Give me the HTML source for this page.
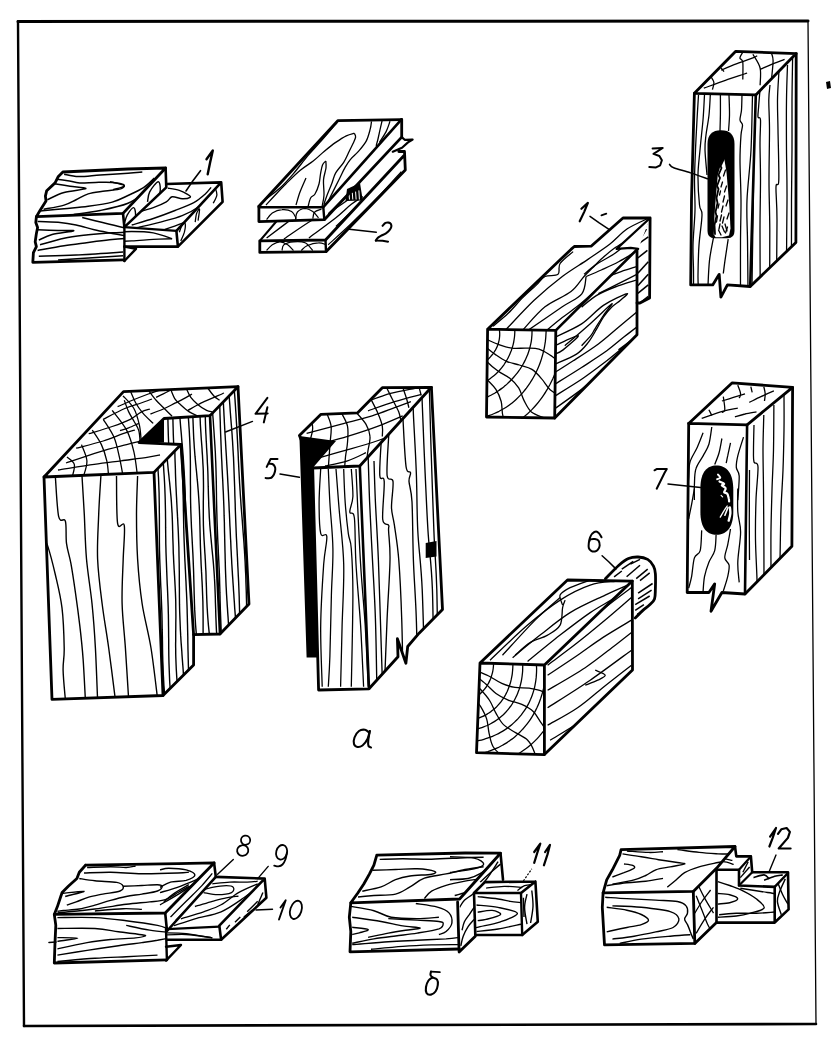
<!DOCTYPE html><html><head><meta charset="utf-8"><style>html,body{margin:0;padding:0;background:#fff;font-family:"Liberation Sans",sans-serif;}svg{display:block}</style></head><body><svg width="831" height="1043" viewBox="0 0 831 1043"><defs><clipPath id="c1"><polygon points="166.3,184 221.2,182.4 176.4,230.8 124.4,227.1"/></clipPath><clipPath id="c2"><polygon points="221.2,182.4 222.6,201.9 177.9,246.6 176.4,230.8"/></clipPath><clipPath id="c3"><polygon points="124.4,227.1 176.4,230.8 177.9,246.6 124.4,246.6"/></clipPath><clipPath id="c4"><polygon points="62.9,172 128,169 165.6,168 123,213.4 36.4,216.6 40,210.5 46,200.9 45.4,196.1 46.7,190.7 55.1,182.9 58.1,176.8"/></clipPath><clipPath id="c5"><polygon points="165.6,168 166.3,187.4 124.4,227.1 123,213.4"/></clipPath><clipPath id="c6"><polygon points="36.4,216.6 123,214.2 124.4,227.1 124.4,246.6 123,249 123,259.9 32.8,262.3 33.4,252.7 36.4,246.6 35.2,241.8 36.4,233.4 37.6,227.4 35.8,222.6"/></clipPath><clipPath id="c7"><polygon points="259.8,240.9 337,152 404.5,155 325.5,240"/></clipPath><clipPath id="c8"><polygon points="325.5,240 404.5,155 405.3,170 326,251.7"/></clipPath><clipPath id="c9"><polygon points="259.8,240.9 325.5,240 326,251.7 259.8,252.4"/></clipPath><clipPath id="c10"><polygon points="258.9,206.3 337.8,120.7 401.3,119.7 323.3,207.2"/></clipPath><clipPath id="c11"><polygon points="323.3,207.2 401.3,119.7 401.7,137.1 324.3,219.7"/></clipPath><clipPath id="c12"><polygon points="258.9,207.2 323.3,207.2 324.3,219.7 258.9,221.6"/></clipPath><clipPath id="c13"><polygon points="755.8,94.9 796.2,53.6 795.9,242.5 750.2,286.5"/></clipPath><clipPath id="c14"><polygon points="694.4,93.3 755.8,94.9 750.2,286.5 727.4,284.9 720.9,297.1 719.2,274.3 712.7,284.9 690.7,284.9 691.5,200"/></clipPath><clipPath id="c15"><polygon points="694.4,93.3 735.5,51.4 796.2,53.6 755.8,94.9"/></clipPath><clipPath id="c16"><polygon points="637,250 638.2,248.9 650.1,218 649.6,298 640,303 637,303"/></clipPath><clipPath id="c17"><polygon points="488.7,329.5 571,249.4 574.3,246.5 591.1,246.2 623,218 650.1,218 616.6,248.9 630.7,247.8 636,250.5 555.8,330.3"/></clipPath><clipPath id="c18"><polygon points="555.8,330.3 636,250.5 637,334.7 554.7,418"/></clipPath><clipPath id="c19"><polygon points="487.6,329.2 555.8,330.3 554.7,418 486.5,417"/></clipPath><clipPath id="c20"><polygon points="210,415.6 238,386.7 249,604 220,634"/></clipPath><clipPath id="c21"><polygon points="164,418.5 210,415.6 220,634 193.6,634.6 181,444.5 164,442.6"/></clipPath><clipPath id="c22"><polygon points="154,472.4 181,444.5 193.6,665 163,695.5"/></clipPath><clipPath id="c23"><polygon points="44,477 154,472.4 163,695.5 52,699.4"/></clipPath><clipPath id="c24"><polygon points="44,477 123.5,391.6 238,386.7 210,415.6 164,418.5 139,442.6 181,444.5 154,472.4"/></clipPath><clipPath id="c25"><polygon points="359.8,466 431.4,387.3 442.5,609.4 369,688.8"/></clipPath><clipPath id="c26"><polygon points="312.7,468 359.8,466 369,688.8 318.6,690"/></clipPath><clipPath id="c27"><polygon points="299.4,435.4 321,414.3 357.7,412.8 382.3,387.7 431.4,387.3 359.8,466 312.7,468"/></clipPath><clipPath id="c28"><polygon points="747.1,424.8 792.6,387.3 791.9,546.3 745,594"/></clipPath><clipPath id="c29"><polygon points="688.7,423.4 747.1,424.8 745,594 721.9,592.5 711,611.3 714.7,583.9 708.9,592.5 687.2,592.5 688,500"/></clipPath><clipPath id="c30"><polygon points="688.7,423.4 732,382.9 792.6,387.3 747.1,424.8"/></clipPath><clipPath id="c31"><polygon points="605.4,578.7 618.9,565.2 628.5,558.5 638.1,557 647.7,559.4 653.5,566.2 655.4,573.9 655.4,588.3 654.5,598.9 649.7,604.7 642.9,610.4 635.2,618.1 632.3,620 632.3,581.1"/></clipPath><clipPath id="c32"><polygon points="545,663.8 631.2,581.2 632.5,670 545,753.8"/></clipPath><clipPath id="c33"><polygon points="480,662.5 567.5,580 631.2,581.2 545,663.8"/></clipPath><clipPath id="c34"><polygon points="480,663 544.4,665 544.4,754.6 476.5,752.6"/></clipPath><clipPath id="c35"><polygon points="215.8,876.9 264.7,878.6 219.3,925.7 167,929.2"/></clipPath><clipPath id="c36"><polygon points="264.7,878.6 266.4,897.8 221.1,939.7 219.3,925.7"/></clipPath><clipPath id="c37"><polygon points="167,929.2 219.3,926.6 221.1,939.7 167,939.7"/></clipPath><clipPath id="c38"><polygon points="85.5,865.2 178,863.6 214.1,862.9 165.2,913 54.3,914.4 57.4,906.6 60.5,897.2 62.1,892.5 68.3,886.3 76.9,878.5 79.3,872.2"/></clipPath><clipPath id="c39"><polygon points="214.1,862.9 215.8,876.9 167,931 165.2,913"/></clipPath><clipPath id="c40"><polygon points="54.3,914.4 165.2,913 167,929.2 167,945 166.9,959.8 54.3,963 55,942.6 55.8,925.4"/></clipPath><clipPath id="c41"><polygon points="474,893 521,893 522.2,935 475.3,935"/></clipPath><clipPath id="c42"><polygon points="484.9,882.1 535.4,881.5 521,893 474,893"/></clipPath><clipPath id="c43"><polygon points="521,893 535.4,881.5 537.8,921.8 522.2,935"/></clipPath><clipPath id="c44"><polygon points="459.6,899 500.5,853.2 503,879.7 484.9,882.1 474,893 475.3,936.3 459.6,952"/></clipPath><clipPath id="c45"><polygon points="376.8,855.1 465,853 500.5,853.2 459.6,899 350.8,902.8 358,892.7 363.8,884 369.5,873.9 373.9,865.2"/></clipPath><clipPath id="c46"><polygon points="350.8,902.8 457.6,902 459.1,949 350,951.9 350.8,931.6 349.3,917.2"/></clipPath><clipPath id="c47"><polygon points="716.5,869.7 739,869.7 739,885.5 774.7,886.9 774.7,922.6 716.5,922.6"/></clipPath><clipPath id="c48"><polygon points="716.5,869.7 735,846.5 736.3,856.4 750.9,856.4 739,869.7"/></clipPath><clipPath id="c49"><polygon points="739,885.5 752.2,872.3 788,872.3 774.7,886.9"/></clipPath><clipPath id="c50"><polygon points="774.7,886.9 788,872.3 788.6,909.4 774.7,922.6"/></clipPath><clipPath id="c51"><polygon points="739,869.7 750.9,856.4 752.2,872.3 739,885.5"/></clipPath><clipPath id="c52"><polygon points="693.3,891.4 716.5,868.3 716.5,922.6 694.8,943.4"/></clipPath><clipPath id="c53"><polygon points="621.1,849.6 735,846.5 716.5,868.3 693.3,891.4 603.1,892.9 606.7,879.9 612.4,869.8 619.7,855.3"/></clipPath><clipPath id="c54"><polygon points="603.1,892.9 693.3,891.4 694.8,943.4 604.5,944.9 602.3,907.3"/></clipPath></defs><rect width="831" height="1043" fill="#fff"/><path d="M18,21.5 L808,21" fill="none" stroke="#000" stroke-width="3" stroke-linejoin="round" stroke-linecap="round"/><path d="M18,21.5 L24,1026" fill="none" stroke="#000" stroke-width="2.4" stroke-linejoin="round" stroke-linecap="round"/><path d="M808,21 L816,1024" fill="none" stroke="#000" stroke-width="1.3" stroke-linejoin="round" stroke-linecap="round"/><path d="M24,1026 L816,1024" fill="none" stroke="#000" stroke-width="2.6" stroke-linejoin="round" stroke-linecap="round"/><path d="M826,82 L830,81 L831,88 L827,89Z" fill="#000"/><polygon points="166.3,184 221.2,182.4 176.4,230.8 124.4,227.1" fill="#fff"/><g clip-path="url(#c1)" fill="none" stroke="#000" stroke-width="1.4"><path d="M167.8,188.2 C169.7,188.5 175.9,189.2 179.3,190.3 C182.7,191.4 186.2,193.5 188,194.7 C189.8,195.8 191.1,196.6 190.1,197.3 C189.2,197.9 185.2,198.8 182.2,198.7 C179.2,198.6 174.7,196.3 172.1,196.8 C169.4,197.4 169.4,200.1 166.3,201.9 C163.2,203.7 157.9,206 153.3,207.7 C148.7,209.3 141.3,211.3 138.9,212"/><path d="M131.7,225 C135.3,223.9 146.1,220.9 153.3,218.5 C160.5,216.1 168.2,213.2 175,210.5 C181.7,207.9 188.7,205.4 193.8,202.6 C198.8,199.8 202.4,196.5 205.3,193.9 C208.2,191.4 210.1,188.5 211.1,187.4"/><path d="M136,227.9 C140.1,226.9 152.8,224.1 160.5,222.1 C168.2,220 175.7,218.2 182.2,215.6 C188.7,212.9 194.7,209.7 199.5,206.2 C204.3,202.7 209.2,196.6 211.1,194.7"/><path d="M164.9,229.3 C168.2,228.1 179.3,224.7 185.1,222.1 C190.9,219.4 195.2,217 199.5,213.4 C203.9,209.8 208.2,204 211.1,200.4 C214,196.8 215.9,193.2 216.9,191.8"/></g><polygon points="221.2,182.4 222.6,201.9 177.9,246.6 176.4,230.8" fill="#fff"/><g clip-path="url(#c2)" fill="none" stroke="#000" stroke-width="1.3"><path d="M179.3,232.2 C179.8,231 181.2,226.4 182.2,225 C183.2,223.5 184.7,222.3 185.1,223.5 C185.5,224.7 185.1,229.3 184.4,232.2 C183.6,235.1 181.4,239.4 180.8,240.9"/><path d="M195.2,222.1 C195.4,220.6 195.9,215.6 196.6,213.4 C197.4,211.3 199.3,207.9 199.5,209.1 C199.8,210.3 198.3,218.7 198.1,220.6"/><path d="M211.1,188.9 C211.6,188.4 213,185 214,186 C214.9,187 217,191.8 216.9,194.7 C216.7,197.5 213.9,201.9 213.2,203.3"/></g><polygon points="124.4,227.1 176.4,230.8 177.9,246.6 124.4,246.6" fill="#fff"/><g clip-path="url(#c3)" fill="none" stroke="#000" stroke-width="1.4"><path d="M110,232.9 C113.6,232.7 124.4,231.5 131.7,231.5 C138.9,231.5 146.6,231.7 153.3,232.9 C160.1,234.1 169,237.7 172.1,238.7"/><path d="M110,241.6 C113.6,241.5 124.4,241.2 131.7,240.9 C138.9,240.5 146.6,239.8 153.3,239.4 C160.1,239.1 169,238.8 172.1,238.7"/></g><polygon points="62.9,172 128,169 165.6,168 123,213.4 36.4,216.6 40,210.5 46,200.9 45.4,196.1 46.7,190.7 55.1,182.9 58.1,176.8" fill="#fff"/><g clip-path="url(#c4)" fill="none" stroke="#000" stroke-width="1.5"><path d="M64.1,174.2 C66.5,174.6 72.5,176.5 78.5,176.6 C84.6,176.7 92,175.6 100.2,175 C108.4,174.5 121,173.7 128,173.2 C135,172.7 139.9,172.2 142.3,172"/><path d="M56.9,179.3 C58.7,179.5 63.9,180.1 67.7,180.7 C71.5,181.3 75.1,182.6 79.7,182.9 C84.4,183.1 90,182.5 95.4,182.4 C100.8,182.3 107.5,182 112.2,182.4 C116.9,182.8 122.3,183.6 123.7,184.7 C125.1,185.8 123.8,187.8 120.7,188.9 C117.6,189.9 110.4,190.2 105,191 C99.6,191.9 93,192.5 88.2,193.9 C83.4,195.4 80.1,197.8 76.1,199.7 C72.1,201.6 69.5,203.5 64.1,205.1 C58.7,206.7 47.1,208.6 43.6,209.3"/><path d="M54.5,183.8 C57.1,184.2 64.9,185.4 70.1,186.2 C75.3,187 86.8,187.6 85.8,188.6 C84.8,189.7 70.5,190.6 64.1,192.5 C57.7,194.3 50.1,198.5 47.3,199.7"/><path d="M40,211.1 C44,210.7 56.1,209.5 64.1,208.7 C72.1,207.9 80.1,207.4 88.2,206.3 C96.2,205.2 105.6,203.9 112.2,202.1 C118.9,200.3 122.8,197.9 128,195.5 C133.2,193.1 139.1,190.6 143.5,187.7 C147.9,184.8 152.5,179.7 154.4,178.1"/><path d="M73.7,214.4 C78.1,213.8 91.2,212.4 100.2,210.5 C109.2,208.7 120.4,206.5 128,203.3 C135.6,200.1 141.3,194.5 145.9,191.3 C150.5,188.1 154,185.3 155.6,184.1"/><path d="M110,181.7 C112.4,182.3 124,184.4 124.4,185.7 C124.9,187 114.8,189 112.9,189.6"/></g><polygon points="165.6,168 166.3,187.4 124.4,227.1 123,213.4" fill="#fff"/><g clip-path="url(#c5)" fill="none" stroke="#000" stroke-width="1.4"><path d="M124.4,223.5 C124.9,222.1 125.8,217.5 127.3,214.9 C128.9,212.2 132.5,207.2 133.8,207.7 C135.2,208.1 136.1,214.9 135.3,217.8 C134.4,220.6 129.9,223.8 128.8,225"/><path d="M147.5,201.9 C147.9,200.2 147.9,195.1 149.7,191.8 C151.5,188.4 156.7,181.4 158.4,181.7 C160.1,181.9 160.9,189.8 159.8,193.2 C158.7,196.6 153.2,200.4 151.9,201.9"/></g><polygon points="36.4,216.6 123,214.2 124.4,227.1 124.4,246.6 123,249 123,259.9 32.8,262.3 33.4,252.7 36.4,246.6 35.2,241.8 36.4,233.4 37.6,227.4 35.8,222.6" fill="#fff"/><g clip-path="url(#c6)" fill="none" stroke="#000" stroke-width="1.5"><path d="M37.6,221.4 C41,221.5 51.7,221.7 58.1,222.3 C64.5,222.9 70.1,223.7 76.1,225 C82.2,226.2 88.2,228.4 94.2,229.8 C100.2,231.2 106.6,232.3 112.2,233.4 C117.9,234.5 125.4,235.9 128,236.4"/><path d="M37.6,229.8 C41,229.9 52.1,230.2 58.1,230.4 C64.1,230.6 74.7,230.1 73.7,230.8 C72.7,231.5 57.9,233.1 52.1,234.6 C46.3,236.2 41,239.1 38.8,240"/><path d="M82.2,217.5 C85.6,218.4 95.8,220.9 102.6,222.6 C109.4,224.2 117.5,226.4 123.1,227.4 C128.7,228.4 134.1,228.4 136.3,228.6"/><path d="M40,244.8 C44,243.7 56.1,239.9 64.1,238.2 C72.1,236.6 80.1,235.8 88.2,234.8 C96.2,233.9 105.6,233.2 112.2,232.8 C118.9,232.4 122,232.5 128,232.2 C134,231.9 144.9,231.2 148.3,231"/><path d="M37.6,250.5 C42,249.7 55.7,247 64.1,245.7 C72.5,244.3 80.1,243.5 88.2,242.4 C96.2,241.4 105.6,240.1 112.2,239.4 C118.9,238.7 125.4,238.4 128,238.2"/><path d="M38.8,256.3 C45,256.1 62.1,255.8 76.1,255.1 C90.2,254.4 115.2,252.6 123.1,252.1"/><path d="M58.1,260.1 C65.1,259.6 89.4,258 100.2,257.2 C111,256.5 119.3,255.9 123.1,255.7"/></g><path d="M62.9,172 L128,169 L165.6,168 L123,213.4 L36.4,216.6 L40,210.5 L46,200.9 L45.4,196.1 L46.7,190.7 L55.1,182.9 L58.1,176.8 L62.9,172" fill="none" stroke="#000" stroke-width="2.8" stroke-linejoin="round" stroke-linecap="round"/><path d="M36.4,216.6 L35.8,222.6 L37.6,227.4 L36.4,233.4 L35.2,241.8 L36.4,246.6 L33.4,252.7 L32.8,262.3 L123,259.9" fill="none" stroke="#000" stroke-width="2.8" stroke-linejoin="round" stroke-linecap="round"/><path d="M123,213.4 L124.4,227.1 L166.3,187.4 L165.6,168" fill="none" stroke="#000" stroke-width="2.6" stroke-linejoin="round" stroke-linecap="round"/><path d="M166.3,184 L221.2,182.4 L222.6,201.9 L177.9,246.6 L176.4,230.8 L221.2,182.4" fill="none" stroke="#000" stroke-width="2.6" stroke-linejoin="round" stroke-linecap="round"/><path d="M124.4,227.1 L176.4,230.8" fill="none" stroke="#000" stroke-width="2.2" stroke-linejoin="round" stroke-linecap="round"/><path d="M124.4,246.6 L177.9,246.6" fill="none" stroke="#000" stroke-width="2.6" stroke-linejoin="round" stroke-linecap="round"/><path d="M124.4,246.6 L136,248.8 L124.4,261" fill="none" stroke="#000" stroke-width="2.4" stroke-linejoin="round" stroke-linecap="round"/><path d="M124.4,227.1 L124.4,261" fill="none" stroke="#000" stroke-width="2.4" stroke-linejoin="round" stroke-linecap="round"/><path d="M186,191 L192,182.1 L200.5,170.7" fill="none" stroke="#000" stroke-width="1.6" stroke-linejoin="round" stroke-linecap="round"/><path d="M206.5,159.3 L212.8,150.5 L210,163 L207.7,174.3" fill="none" stroke="#000" stroke-width="2.4" stroke-linejoin="round" stroke-linecap="round"/><polygon points="259.8,240.9 337,152 404.5,155 325.5,240" fill="#fff"/><g clip-path="url(#c7)" fill="none" stroke="#000" stroke-width="1.3"><path d="M266.6,238 C271,234.6 284.8,224.3 293.5,217.8 C302.2,211.2 311.5,204 318.5,198.5 C325.6,193.1 333,187.3 335.9,185"/><path d="M283.9,238.9 C288.7,235.7 304.1,224.8 312.8,219.7 C321.4,214.6 328.8,212.3 335.9,208.1 C342.9,204 351.9,196.9 355.1,194.7"/><path d="M308.9,238 C313.4,234.6 328.8,223.4 335.9,217.8 C342.9,212.1 346.8,207.8 351.3,204.3 C355.8,200.8 360.9,197.9 362.8,196.6"/><path d="M335.9,226.4 C339.1,223.4 349.3,213.7 355.1,208.1 C360.9,202.5 368,195.3 370.5,192.7"/></g><polygon points="325.5,240 404.5,155 405.3,170 326,251.7" fill="#fff"/><g clip-path="url(#c8)" fill="none" stroke="#000" stroke-width="1.2"><path d="M328.2,244.7 C332,241.2 342.6,231.9 351.3,223.5 C359.9,215.2 371.8,203.3 380.1,194.7 C388.5,186 397.8,175.4 401.3,171.6"/></g><polygon points="259.8,240.9 325.5,240 326,251.7 259.8,252.4" fill="#fff"/><g clip-path="url(#c9)" fill="none" stroke="#000" stroke-width="1.2"><path d="M266.6,250.5 C267.5,249.5 270.1,246.2 272.3,244.7 C274.6,243.3 277.5,241.8 280,241.8 C282.6,241.8 285.5,243.3 287.7,244.7 C290,246.2 292.5,249.5 293.5,250.5"/><path d="M282,250.5 C282.3,249.5 282,246.2 283.9,244.7 C285.8,243.3 290,242.1 293.5,241.8 C297,241.5 301.8,241.3 305.1,242.8 C308.3,244.2 311.5,249.2 312.8,250.5"/><path d="M301.2,250.5 C302.2,249.7 304.1,247 307,245.7 C309.9,244.4 315.3,242.9 318.5,242.8 C321.7,242.6 325,244.4 326.2,244.7"/></g><polygon points="258.9,206.3 337.8,120.7 401.3,119.7 323.3,207.2" fill="#fff"/><g clip-path="url(#c10)" fill="none" stroke="#000" stroke-width="1.3"><path d="M337,122.6 C334.1,125.9 324.8,136.9 319.9,142.4 C315,147.9 312.3,150.5 307.9,155.7 C303.5,160.9 298.1,168.2 293.5,173.6 C288.9,179 284.5,183.8 280,188 C275.5,192.2 268.8,196.8 266.6,198.6"/><path d="M354.3,133.2 C353,133.6 349.4,134.3 346.3,135.8 C343.2,137.3 339.4,139.8 335.7,142.4 C331.9,145.1 327.6,148.6 323.8,151.7 C320.1,154.8 317.2,157.9 313.2,161 C309.2,164.1 304.6,166.7 300,170.5 C295.4,174.3 290.1,179.8 285.8,184 C281.5,188.2 277.6,192.5 274.3,196 C271,199.5 267.4,203.5 266,205"/><path d="M354.3,133.2 C354.5,133.8 355.8,135.3 355.6,137.1 C355.4,138.9 354,141.4 352.9,143.8 C351.8,146.2 350.5,148.6 349,151.7 C347.5,154.8 345.9,158.8 343.7,162.3 C341.5,165.8 337.7,169.4 335.7,172.9 C333.7,176.4 333.3,179.5 331.8,183.5 C330.3,187.5 327.8,193.2 326.5,196.7 C325.2,200.2 324.2,203.4 323.8,204.7"/><path d="M325.8,161 C325.2,161.7 323.4,162.8 322.5,165 C321.6,167.2 321.1,170.8 320.5,174 C319.9,177.2 319.9,180.7 319,184 C318.1,187.3 316.4,191.7 315,194 C313.6,196.3 311.8,195.8 310.6,198 C309.4,200.2 308.4,205.5 308,207"/><path d="M325.8,161 C325.8,162.2 326.4,164.8 326,168 C325.6,171.2 323.8,175.5 323.5,180 C323.2,184.5 324.2,190.5 324,195 C323.8,199.5 322.3,205 322,207"/><path d="M371.5,121.3 C371.3,122.6 371.1,125.9 370.2,129.2 C369.3,132.5 368.2,137.3 366.2,141.1 C364.2,144.8 360.8,148.6 358.2,151.7 C355.6,154.8 352.5,156.9 350.3,159.6 C348.1,162.2 346.8,164.5 345,167.6 C343.2,170.7 341.7,174.2 339.7,178.2 C337.7,182.2 335.3,187 333.1,191.4 C330.9,195.8 327.6,202.5 326.5,204.7"/><path d="M382.1,120.6 C381.4,123.6 379,134.2 378.1,138.5 C377.2,142.8 375.5,146.4 376.8,146.4 C378.1,146.4 382.7,142 386,138.5 C389.3,135 394.2,128.1 396.6,125.2 C399,122.3 399.9,122 400.6,121.3"/><path d="M390,121.3 C389.3,123.1 387.8,128.4 386,131.9 C384.2,135.4 380.5,140.7 379.4,142.4"/><path d="M296,205 C296.7,202.8 298.3,196.5 300,192 C301.7,187.5 305,180.3 306,178"/></g><polygon points="323.3,207.2 401.3,119.7 401.7,137.1 324.3,219.7" fill="#fff"/><g clip-path="url(#c11)" fill="none" stroke="#000" stroke-width="1.2"><path d="M328.2,213.9 C330.1,212 335.2,206.8 339.7,202.4 C344.2,197.9 352.5,189.5 355.1,187"/></g><polygon points="258.9,207.2 323.3,207.2 324.3,219.7 258.9,221.6" fill="#fff"/><g clip-path="url(#c12)" fill="none" stroke="#000" stroke-width="1.2"><path d="M266.6,219.7 C267.5,218.6 269.8,214.6 272.3,212.9 C274.9,211.3 278.7,209.9 282,209.7 C285.2,209.4 289.2,210.1 291.6,211.6 C294,213.1 295.6,217.5 296.4,218.7"/><path d="M295.4,219.7 C295.8,218.4 295.8,213.8 297.4,212 C299,210.1 302.5,208.6 305.1,208.5 C307.6,208.5 310.5,210.1 312.8,211.6 C315,213.1 317.6,216.7 318.5,217.8"/><path d="M312.8,218.7 C313.1,217.6 313.2,213.6 314.7,212 C316.1,210.4 320.3,209.6 321.4,209.1"/></g><path d="M347,189 L360,183 L362.8,200.6 L345.5,201Z" fill="#000"/><path d="M349,193 L349.5,199" fill="none" stroke="#000" stroke-width="0.9" stroke-linejoin="round" stroke-linecap="round"/><path d="M352.2,191.8 L352.7,199" fill="none" stroke="#000" stroke-width="0.9" stroke-linejoin="round" stroke-linecap="round"/><path d="M355.4,190.6 L355.9,199" fill="none" stroke="#000" stroke-width="0.9" stroke-linejoin="round" stroke-linecap="round"/><path d="M358.6,189.4 L359.1,199" fill="none" stroke="#000" stroke-width="0.9" stroke-linejoin="round" stroke-linecap="round"/><g stroke="#fff" stroke-width="1"><path d="M349.0,194.0 L349.5,199.5"/><path d="M352.3,192.8 L352.8,199.5"/><path d="M355.6,191.6 L356.1,199.5"/><path d="M358.9,190.4 L359.4,199.5"/></g><path d="M258.9,206.3 L337.8,120.7 L401.3,119.7" fill="none" stroke="#000" stroke-width="2.8" stroke-linejoin="round" stroke-linecap="round"/><path d="M258.9,206.3 L258.9,221.6 L324.3,219.7 L401.7,137.1 L401.7,119.3" fill="none" stroke="#000" stroke-width="2.8" stroke-linejoin="round" stroke-linecap="round"/><path d="M258.9,207.2 L323.3,207.2 L401.3,119.7" fill="none" stroke="#000" stroke-width="2.6" stroke-linejoin="round" stroke-linecap="round"/><path d="M323.3,207.2 L324.3,219.7" fill="none" stroke="#000" stroke-width="2.4" stroke-linejoin="round" stroke-linecap="round"/><path d="M401.7,137.1 L404.7,139.8 L412.6,139.5 L408,142.4 L402,147.7 L392.8,151.7" fill="none" stroke="#000" stroke-width="2.2" stroke-linejoin="round" stroke-linecap="round"/><path d="M398.8,151.5 L404.5,151.5 L405.3,170 L326,251.7 L259.8,252.4 L259.8,240.9 L325.5,240 L404.5,155" fill="none" stroke="#000" stroke-width="2.8" stroke-linejoin="round" stroke-linecap="round"/><path d="M325.5,240 L326,251.7" fill="none" stroke="#000" stroke-width="2.4" stroke-linejoin="round" stroke-linecap="round"/><path d="M259.8,240.9 L276.2,221.6" fill="none" stroke="#000" stroke-width="2.2" stroke-linejoin="round" stroke-linecap="round"/><path d="M349.3,229.3 L376.3,232.2" fill="none" stroke="#000" stroke-width="1.5" stroke-linejoin="round" stroke-linecap="round"/><polygon points="755.8,94.9 796.2,53.6 795.9,242.5 750.2,286.5" fill="#fff"/><g clip-path="url(#c13)" fill="none" stroke="#000" stroke-width="1.3"><path d="M753.5,100 C753.5,113.3 753.6,156.7 753.5,180 C753.4,203.3 753,220 752.7,240 C752.4,260 751.9,290 751.8,300"/><path d="M760,90 C759.8,92.8 758.9,102.5 758.6,107 C758.3,111.5 757.7,114.8 758,117 C758.3,119.2 760.2,115.7 760.5,120 C760.8,124.3 760,133 760,143 C760,153 760.5,165.5 760.5,180 C760.5,194.5 760,210 760,230 C760,250 760.2,288.3 760.3,300"/><path d="M770,85 C769.8,87.5 768.9,92.5 768.8,100 C768.7,107.5 769.5,116.7 769.5,130 C769.5,143.3 769,163.3 769,180 C769,196.7 769.7,210 769.8,230 C769.9,250 769.5,288.3 769.5,300"/><path d="M778.9,72 C778.7,76.7 777.6,90.3 777.5,100 C777.4,109.7 777.8,116.7 778,130 C778.2,143.3 779.1,170.5 778.8,180 C778.5,189.5 776.3,180.3 776,187 C775.7,193.7 777,201.2 777,220 C777,238.8 776.4,286.7 776.3,300"/><path d="M787.5,65 C787.3,70.8 786.7,85.8 786.5,100 C786.3,114.2 786.4,133.3 786.5,150 C786.6,166.7 787.1,175 787,200 C786.9,225 786.2,283.3 786,300"/><path d="M792.6,58 C792.5,65 792.1,84.7 792,100 C791.9,115.3 792.1,133.3 792,150 C791.9,166.7 791.6,175 791.5,200 C791.4,225 791.5,283.3 791.5,300"/></g><polygon points="694.4,93.3 755.8,94.9 750.2,286.5 727.4,284.9 720.9,297.1 719.2,274.3 712.7,284.9 690.7,284.9 691.5,200" fill="#fff"/><g clip-path="url(#c14)" fill="none" stroke="#000" stroke-width="1.3"><path d="M698.5,95 C698.2,99.2 697.5,110.8 697,120 C696.5,129.2 695.9,140 695.5,150 C695.1,160 694.6,170 694.5,180 C694.4,190 695.2,199.2 695,210 C694.8,220.8 693.2,235 693,245 C692.8,255 693.4,262.5 693.5,270 C693.6,277.5 693.5,286.7 693.5,290"/><path d="M704.5,95 C704.2,99.2 703.8,110.8 703,120 C702.2,129.2 700.8,140.8 700,150 C699.2,159.2 698.1,165.8 698,175 C697.9,184.2 698.8,198.3 699.5,205 C700.2,211.7 702.1,208.3 702,215 C701.9,221.7 699.7,235 699,245 C698.3,255 698.1,267.5 698,275 C697.9,282.5 698.4,287.5 698.5,290"/><path d="M710.3,95 C710.1,98.3 709.7,108.3 709,115 C708.3,121.7 706.7,129.2 706,135 C705.3,140.8 704.8,143.3 705,150 C705.2,156.7 706.7,170.8 707,175"/><path d="M720.4,95 C720.4,98.3 720.5,109 720.4,115 C720.3,121 720.1,128.3 720,131"/><path d="M729,95 C729.1,98.3 729.6,109 729.5,115 C729.4,121 728.7,128.3 728.5,131"/><path d="M742,95 C741.9,97.5 741.8,105.8 741.5,110 C741.2,114.2 739.8,117.5 740,120 C740.2,122.5 742.3,122.5 742.5,125 C742.7,127.5 741.4,129.2 741,135 C740.6,140.8 740,149.2 740,160 C740,170.8 740.9,186.7 741,200 C741.1,213.3 740.6,225 740.5,240 C740.4,255 740.5,281.7 740.5,290"/><path d="M752.5,95 C752.2,104.2 751.9,132.5 751,150 C750.1,167.5 747.6,185 747,200 C746.4,215 747.3,225 747.5,240 C747.7,255 747.9,281.7 748,290"/><path d="M713.5,237.6 C712.8,241.4 710.5,251.7 709.5,260.4 C708.5,269.1 708.1,285.1 707.8,290"/><path d="M728.2,239.2 C727.7,242.7 725.8,254.7 725,260.4 C724.2,266.1 723.6,271.3 723.3,273.5"/></g><polygon points="694.4,93.3 735.5,51.4 796.2,53.6 755.8,94.9" fill="#fff"/><g clip-path="url(#c15)" fill="none" stroke="#000" stroke-width="1.3"><path d="M703.8,88.2 C707.4,86.9 718.2,82.8 725.4,80.3 C732.7,77.7 743.5,74.3 747.1,73"/><path d="M721.1,70.2 C723.7,69.1 731.7,65.7 737,63.7 C742.3,61.6 749.5,59.2 752.9,57.9 C756.2,56.6 756.5,56.1 757.2,55.7"/><path d="M760.1,69.4 C762,68.6 767.6,66.1 771.6,64.4 C775.7,62.7 782.5,60.2 784.6,59.3"/><path d="M742.8,52.1 C742.3,53.1 739.9,56.2 739.9,57.9 C739.9,59.6 742.3,58.6 742.8,62.2 C743.2,65.8 742.8,76.7 742.8,79.5"/><path d="M752.9,54.3 C754.1,56.6 758.9,62.8 760.1,68 C761.3,73.2 760.1,82.4 760.1,85.3"/><path d="M771.6,53.6 C771.9,54.8 773.1,56.7 773.1,60.8 C773.1,64.9 771.9,75.2 771.6,78.1"/><path d="M711,76.7 C711.5,77.6 713.6,80.3 713.9,82.4 C714.1,84.6 712.7,88.5 712.4,89.7"/><path d="M721.1,68 L724,71.6"/></g><path d="M694.4,93.3 L735.5,51.4 L796.2,53.6 L755.8,94.9 L694.4,93.3" fill="none" stroke="#000" stroke-width="2.8" stroke-linejoin="round" stroke-linecap="round"/><path d="M796.2,53.6 L795.9,242.5 L750.2,286.5 L727.4,284.9 L720.9,297.1 L719.2,274.3 L712.7,284.9 L690.7,284.9 L691.5,200 L694.4,93.3" fill="none" stroke="#000" stroke-width="2.8" stroke-linejoin="round" stroke-linecap="round"/><path d="M755.8,94.9 L750.2,286.5" fill="none" stroke="#000" stroke-width="2.6" stroke-linejoin="round" stroke-linecap="round"/><path d="M707.5,144 Q707.5,130.2 721,130.2 Q734.5,130.2 734.5,144 L734.5,231 Q734.5,238.3 727.5,238.3 L714.5,238.3 Q707.5,238.3 707.5,231 Z" fill="#000"/><path d="M724.2,158.4 L726.5,172 L727.6,185 L729.3,205.6 L730.5,228.6 L729,235.5 L722,237.2 L715.5,237.2 L713.8,234.3 L714.5,215 L716,195 L717.8,175 L721,164 Z" fill="#fff"/><path d="M724.2,158.4 L720.5,166 L721.5,168 L718.5,175 L720,178 L717,186 L718.5,189 L716.5,198 L717.5,203 L715.5,212 L716.5,216 L714.5,225 L715,234" fill="none" stroke="#000" stroke-width="1.8" stroke-linejoin="round" stroke-linecap="round"/><path d="M726.5,186 L724.5,192" fill="none" stroke="#000" stroke-width="1.3" stroke-linejoin="round" stroke-linecap="round"/><path d="M724.5,196 L723,202" fill="none" stroke="#000" stroke-width="1.3" stroke-linejoin="round" stroke-linecap="round"/><path d="M723,206 L721.5,212" fill="none" stroke="#000" stroke-width="1.3" stroke-linejoin="round" stroke-linecap="round"/><path d="M721.5,215 L720,221" fill="none" stroke="#000" stroke-width="1.3" stroke-linejoin="round" stroke-linecap="round"/><path d="M720,224 L719,229" fill="none" stroke="#000" stroke-width="1.3" stroke-linejoin="round" stroke-linecap="round"/><path d="M722,226 L724.5,232" fill="none" stroke="#000" stroke-width="1.3" stroke-linejoin="round" stroke-linecap="round"/><path d="M725,224 L727,231" fill="none" stroke="#000" stroke-width="1.3" stroke-linejoin="round" stroke-linecap="round"/><path d="M718.5,230 L721,235" fill="none" stroke="#000" stroke-width="1.3" stroke-linejoin="round" stroke-linecap="round"/><path d="M727.5,227 L725.5,233" fill="none" stroke="#000" stroke-width="1.3" stroke-linejoin="round" stroke-linecap="round"/><path d="M720.5,191 L719.5,195" fill="none" stroke="#000" stroke-width="1.3" stroke-linejoin="round" stroke-linecap="round"/><path d="M719,204 L718,208" fill="none" stroke="#000" stroke-width="1.3" stroke-linejoin="round" stroke-linecap="round"/><path d="M725.5,170 L723.5,176" fill="none" stroke="#000" stroke-width="1.3" stroke-linejoin="round" stroke-linecap="round"/><path d="M728,200 L726,206" fill="none" stroke="#000" stroke-width="1.3" stroke-linejoin="round" stroke-linecap="round"/><path d="M729,213 L727,219" fill="none" stroke="#000" stroke-width="1.3" stroke-linejoin="round" stroke-linecap="round"/><path d="M722.5,182 L721,187" fill="none" stroke="#000" stroke-width="1.3" stroke-linejoin="round" stroke-linecap="round"/><path d="M724,217 L722.5,223" fill="none" stroke="#000" stroke-width="1.3" stroke-linejoin="round" stroke-linecap="round"/><path d="M717.5,216 L716.5,222" fill="none" stroke="#000" stroke-width="1.3" stroke-linejoin="round" stroke-linecap="round"/><path d="M652.6,148.4 L662.7,148 L653.5,153.9 L659.4,156 L661.9,160.2 L660.2,165.3 L656,167.4 L649.3,167" fill="none" stroke="#000" stroke-width="2.0" stroke-linejoin="round" stroke-linecap="round"/><path d="M669.5,164.4 C670.2,165 670.2,166.4 673.7,167.8 C677.2,169.2 684.9,171 690.5,172.9 C696.2,174.7 704.6,177.8 707.4,178.8" fill="none" stroke="#000" stroke-width="1.5" stroke-linejoin="round" stroke-linecap="round"/><polygon points="637,250 638.2,248.9 650.1,218 649.6,298 640,303 637,303" fill="#fff"/><g clip-path="url(#c16)" fill="none" stroke="#000" stroke-width="1.6"><path d="M637.8,258 L647.4,250.3"/><path d="M637.8,273.3 L648.3,261.8"/><path d="M637.8,285.8 L648.3,274.3"/><path d="M637.8,293.4 L648.3,284.8"/><path d="M638.7,304 L648.3,296.3"/><path d="M638.7,243.6 L648.3,236.9"/><path d="M641.6,236.9 L646.4,229.2"/><path d="M643.5,231.2 L647.4,222.5"/></g><polygon points="488.7,329.5 571,249.4 574.3,246.5 591.1,246.2 623,218 650.1,218 616.6,248.9 630.7,247.8 636,250.5 555.8,330.3" fill="#fff"/><g clip-path="url(#c17)" fill="none" stroke="#000" stroke-width="1.3"><path d="M493,326.3 C495.5,324.1 503.1,318.2 508.2,313.3 C513.2,308.4 518.6,301.7 523.3,297.1 C528,292.4 532.7,288.6 536.3,285.1 C539.9,281.7 541.4,278.3 545,276.5 C548.6,274.7 555.4,276.5 558,274.3 C560.5,272.1 557.6,267.3 560.1,263.5 C562.7,259.7 571,253.6 573.1,251.6"/><path d="M506,329.5 C510.7,324.7 524.8,309.1 534.1,300.3 C543.5,291.5 553.3,283.3 562.3,276.5 C571.3,269.6 580.4,264.6 588.3,259.1 C596.2,253.7 603.5,249 610,244 C616.5,238.9 620.8,233.2 627.3,228.8 C633.8,224.5 645.3,219.8 648.9,218"/><path d="M523.3,329.5 C526.9,325.7 537,313.1 545,306.8 C552.9,300.5 564.5,296.7 571,291.6 C577.5,286.6 580.4,280.4 584,276.5 C587.6,272.5 589.7,270.7 592.6,267.8 C595.5,264.9 597.7,262.4 601.3,259.1 C604.9,255.9 609.2,251.9 614.3,248.3 C619.3,244.7 625.5,241.8 631.6,237.5 C637.8,233.2 647.9,224.9 651.1,222.3"/><path d="M545,331.7 C547.9,329.4 556.5,322.1 562.3,317.6 C568.1,313.1 573.9,309.3 579.6,304.6 C585.4,299.9 591.2,294.5 597,289.5 C602.7,284.4 607.8,280.1 614.3,274.3 C620.8,268.5 632.3,258.1 635.9,254.8"/><path d="M584,274.3 C586.1,272.6 591.9,267.3 597,263.9 C602,260.5 608.5,257.8 614.3,253.7 C620.1,249.7 628.7,242 631.6,239.7"/><path d="M586.1,276.5 C588.7,275.4 595.9,272.4 601.3,270 C606.7,267.5 612.8,264.8 618.6,261.7 C624.4,258.7 633.1,253.3 635.9,251.6"/><path d="M527.6,330.6 C533.4,326.7 553.3,312.9 562.3,306.8 C571.3,300.7 577.8,298.9 581.8,293.8 C585.8,288.7 585.4,279.4 586.1,276.5"/></g><polygon points="555.8,330.3 636,250.5 637,334.7 554.7,418" fill="#fff"/><g clip-path="url(#c18)" fill="none" stroke="#000" stroke-width="1.35"><path d="M611.8,275.2 C614,274.4 620.7,271.7 625.2,270.2 C629.7,268.6 636.4,266.7 638.6,266"/><path d="M581.6,307.1 C584.1,305.2 591.1,298.7 596.7,295.4 C602.3,292 608.2,289.6 615.1,287 C622.1,284.3 634.7,280.7 638.6,279.4"/><path d="M554.7,337.3 C559.2,335.1 573.5,329.2 581.6,323.9 C589.7,318.6 595.8,310.5 603.4,305.4 C611,300.4 624.1,294.5 626.9,293.7 C629.7,292.8 622.7,298.2 620.2,300.4 C617.7,302.6 614.6,304.3 611.8,307.1 C609,309.9 605.9,313.5 603.4,317.2 C600.9,320.8 599.2,324.7 596.7,328.9 C594.2,333.1 591.6,338.2 588.3,342.4 C584.9,346.6 582.1,350.5 576.5,354.1 C570.9,357.8 558.4,362.5 554.7,364.2"/><path d="M564.8,345.7 C569,342.1 582.1,330.9 590,323.9 C597.8,316.9 609.6,305.2 611.8,303.8 C614,302.4 606.2,311.3 603.4,315.5 C600.6,319.7 597.1,325.6 595,328.9 C592.9,332.3 593,332.9 590.8,335.6 C588.6,338.4 583.1,344 581.6,345.7"/><path d="M554.7,345.7 C558.6,344 576.8,335 578.2,335.6 C579.6,336.3 567,346.8 563.1,349.9 C559.2,353 556.1,353.4 554.7,354.1"/><path d="M554.7,372.6 C557.8,370.6 565.9,365.6 573.2,360.8 C580.5,356.1 590.8,349.6 598.4,344 C605.9,338.4 611.8,332.9 618.5,327.3 C625.2,321.7 635.3,313.3 638.6,310.5"/><path d="M554.7,384.3 C559.2,381.5 572.9,373.1 581.6,367.5 C590.2,361.9 599.8,355.8 606.8,350.8 C613.7,345.7 618.2,341.5 623.5,337.3 C628.9,333.1 636.1,327.5 638.6,325.6"/><path d="M554.7,396.1 C559.2,393.3 572.9,385.2 581.6,379.3 C590.2,373.4 599.8,366.1 606.8,360.8 C613.7,355.5 618.2,351.3 623.5,347.4 C628.9,343.5 636.1,339 638.6,337.3"/><path d="M554.7,408.7 C559.2,405.5 574.3,395.1 581.6,389.4 C588.8,383.6 592.2,380.1 598.4,374.3 C604.5,368.4 613.7,358.6 618.5,354.1 C623.3,349.6 625.5,348.5 626.9,347.4"/><path d="M618.5,349.9 L631.9,339.8"/><path d="M598.4,293.7 C601.7,292 611.8,287 618.5,283.6 C625.2,280.3 635.3,275.2 638.6,273.5"/></g><polygon points="487.6,329.2 555.8,330.3 554.7,418 486.5,417" fill="#fff"/><g clip-path="url(#c19)" fill="none" stroke="#000" stroke-width="1.3"><path d="M490.3,311.1 C490.5,311.4 491.2,312.2 491.7,312.8 C492.2,313.3 492.6,313.9 493.1,314.5 C493.5,315.1 493.9,315.7 494.3,316.3 C494.7,316.9 495.1,317.5 495.4,318.2 C495.8,318.8 496.1,319.5 496.5,320.1 C496.8,320.8 497.1,321.5 497.4,322.2 C497.6,322.9 497.9,323.6 498.1,324.3 C498.4,325 498.6,325.7 498.7,326.4 C498.9,327.1 499.1,327.9 499.2,328.6 C499.4,329.3 499.5,330.1 499.5,330.8 C499.6,331.5 499.7,332.3 499.7,333 C499.7,333.8 499.7,334.5 499.7,335.3 C499.7,336 499.6,336.8 499.5,337.5 C499.5,338.3 499.3,339 499.2,339.7 C499.1,340.5 498.9,341.2 498.7,341.9 C498.6,342.6 498.3,343.4 498.1,344.1 C497.9,344.8 497.6,345.5 497.3,346.2 C497.1,346.8 496.7,347.5 496.4,348.2 C496.1,348.9 495.7,349.5 495.4,350.1 C495,350.8 494.6,351.4 494.2,352 C493.8,352.6 493.4,353.2 493,353.8 C492.5,354.4 492.1,355 491.6,355.5 C491.1,356.1 490.6,356.6 490.1,357.2 C489.6,357.7 489.1,358.2 488.6,358.7 C488.1,359.2 487.5,359.7 487,360.1 C486.4,360.6 485.8,361.1 485.3,361.5 C484.7,361.9 484.1,362.4 483.5,362.8 C482.9,363.2 482.3,363.6 481.7,363.9 C481.1,364.3 480.5,364.7 479.8,365 C479.2,365.3 478.6,365.7 477.9,366 C477.3,366.3 476.6,366.6 475.9,366.9 C475.3,367.1 474.6,367.4 473.9,367.7 C473.3,367.9 472.6,368.1 471.9,368.3 C471.2,368.5 470.5,368.7 469.8,368.9 C469.1,369.1 468.4,369.2 467.7,369.4 C466.9,369.5 466.2,369.6 465.5,369.7 C464.8,369.8 464,369.9 463.3,369.9 C462.6,370 461.8,370 461.1,370 C460.4,370 459.6,370 458.9,370 C458.2,369.9 457.1,369.8 456.7,369.8"/><path d="M503.6,299.9 C503.9,300.3 505,301.6 505.6,302.5 C506.3,303.3 506.9,304.2 507.5,305.1 C508.1,306 508.6,307 509.1,307.9 C509.6,308.9 510.1,309.8 510.6,310.8 C511,311.8 511.4,312.8 511.8,313.8 C512.2,314.8 512.5,315.8 512.8,316.8 C513.1,317.9 513.4,318.9 513.6,320 C513.9,321 514.1,322.1 514.2,323.1 C514.4,324.2 514.5,325.2 514.6,326.3 C514.7,327.3 514.8,328.4 514.8,329.5 C514.8,330.5 514.8,331.6 514.8,332.6 C514.7,333.7 514.7,334.8 514.6,335.8 C514.5,336.8 514.4,337.9 514.2,338.9 C514.1,340 513.9,341 513.7,342 C513.5,343 513.2,344.1 513,345.1 C512.7,346.1 512.4,347.1 512.1,348.1 C511.8,349.1 511.4,350.1 511.1,351 C510.7,352 510.3,353 509.9,353.9 C509.5,354.9 509.1,355.8 508.6,356.7 C508.2,357.7 507.7,358.6 507.2,359.5 C506.7,360.4 506.1,361.3 505.6,362.2 C505,363.1 504.5,363.9 503.9,364.8 C503.3,365.6 502.6,366.5 502,367.3 C501.4,368.1 500.7,368.9 500,369.7 C499.3,370.5 498.6,371.3 497.9,372.1 C497.1,372.8 496.4,373.5 495.6,374.3 C494.8,375 494,375.7 493.2,376.3 C492.4,377 491.5,377.6 490.6,378.2 C489.8,378.9 488.9,379.5 488,380 C487.1,380.6 486.1,381.1 485.2,381.6 C484.3,382.1 483.3,382.6 482.3,383 C481.3,383.5 480.3,383.9 479.3,384.2 C478.3,384.6 477.3,384.9 476.3,385.2 C475.2,385.5 474.2,385.8 473.1,386 C472.1,386.2 471,386.4 469.9,386.6 C468.9,386.7 467.8,386.8 466.7,386.9 C465.6,387 464.5,387 463.5,387 C462.4,387 461.3,387 460.2,386.9 C459.2,386.8 458.1,386.7 457,386.5 C456,386.4 454.4,386 453.8,385.9"/><path d="M515.3,290.1 C515.8,290.6 517.2,292.2 518.1,293.2 C519,294.3 519.9,295.4 520.7,296.5 C521.5,297.7 522.3,298.9 523,300 C523.8,301.2 524.5,302.5 525.1,303.7 C525.8,304.9 526.4,306.2 527,307.5 C527.5,308.8 528.1,310.1 528.5,311.4 C529,312.8 529.5,314.1 529.8,315.5 C530.2,316.8 530.6,318.2 530.8,319.6 C531.1,321 531.4,322.4 531.5,323.8 C531.7,325.2 531.9,326.6 531.9,328 C532,329.4 532.1,330.8 532,332.2 C532,333.6 532,335 531.8,336.4 C531.7,337.8 531.6,339.2 531.4,340.6 C531.2,342 530.9,343.3 530.6,344.7 C530.3,346.1 530,347.4 529.6,348.8 C529.2,350.1 528.8,351.4 528.3,352.7 C527.9,354 527.4,355.3 526.8,356.6 C526.3,357.9 525.7,359.1 525.1,360.4 C524.5,361.6 523.9,362.8 523.2,364 C522.5,365.2 521.8,366.4 521.1,367.5 C520.4,368.7 519.6,369.8 518.8,370.9 C518,372 517.2,373.1 516.3,374.2 C515.5,375.3 514.6,376.3 513.7,377.3 C512.8,378.3 511.9,379.3 510.9,380.3 C510,381.3 509,382.2 508,383.1 C507,384.1 506,385 505,385.8 C503.9,386.7 502.9,387.6 501.8,388.4 C500.7,389.2 499.6,390 498.5,390.7 C497.3,391.5 496.2,392.2 495,393 C493.8,393.7 492.6,394.3 491.4,395 C490.2,395.6 489,396.2 487.7,396.8 C486.5,397.4 485.2,397.9 483.9,398.4 C482.6,398.9 481.3,399.4 480,399.8 C478.7,400.3 477.4,400.6 476,401 C474.7,401.3 473.3,401.6 471.9,401.9 C470.6,402.2 469.2,402.4 467.8,402.5 C466.4,402.7 465,402.8 463.6,402.9 C462.2,403 460.8,403 459.4,403 C458,403 456.6,402.9 455.2,402.8 C453.8,402.6 451.7,402.3 451,402.2"/><path d="M528.6,278.9 C529.2,279.6 530.8,281.7 531.8,283.1 C532.8,284.5 533.8,286 534.7,287.4 C535.6,288.9 536.5,290.4 537.2,292 C538,293.5 538.8,295.1 539.5,296.7 C540.2,298.3 540.8,299.9 541.4,301.5 C542,303.2 542.5,304.8 543,306.5 C543.4,308.1 543.8,309.8 544.2,311.5 C544.6,313.2 544.9,314.9 545.1,316.5 C545.4,318.2 545.6,319.9 545.7,321.6 C545.9,323.3 546,325 546,326.7 C546.1,328.4 546.1,330.1 546.1,331.8 C546,333.5 545.9,335.2 545.8,336.9 C545.7,338.6 545.5,340.3 545.3,341.9 C545,343.6 544.8,345.3 544.5,346.9 C544.2,348.6 543.8,350.2 543.4,351.8 C543,353.5 542.6,355.1 542.1,356.7 C541.7,358.3 541.2,359.9 540.6,361.5 C540.1,363.1 539.5,364.6 538.8,366.2 C538.2,367.7 537.5,369.3 536.8,370.8 C536.1,372.3 535.4,373.8 534.6,375.3 C533.8,376.8 533,378.3 532.1,379.7 C531.2,381.2 530.3,382.6 529.4,384 C528.4,385.4 527.4,386.8 526.4,388.2 C525.4,389.5 524.3,390.8 523.2,392.1 C522.1,393.4 520.9,394.7 519.7,395.9 C518.6,397.2 517.3,398.4 516.1,399.5 C514.8,400.7 513.5,401.8 512.1,402.9 C510.8,403.9 509.4,405 508,406 C506.6,407 505.1,407.9 503.6,408.8 C502.1,409.7 500.6,410.5 499.1,411.3 C497.5,412.1 495.9,412.9 494.3,413.5 C492.7,414.2 491.1,414.9 489.5,415.4 C487.8,416 486.1,416.5 484.5,416.9 C482.8,417.4 481.1,417.8 479.3,418.1 C477.6,418.4 475.9,418.7 474.2,418.9 C472.4,419.1 470.7,419.2 469,419.3 C467.2,419.4 465.5,419.4 463.7,419.4 C462,419.3 460.3,419.2 458.5,419 C456.8,418.9 455.1,418.7 453.4,418.4 C451.7,418.1 449.1,417.5 448.3,417.4"/><path d="M542.6,267.2 C543.3,268 545.3,270.5 546.5,272.2 C547.7,274 548.8,275.7 549.9,277.5 C551,279.4 552,281.2 553,283.1 C554,285 554.8,286.9 555.7,288.8 C556.5,290.7 557.3,292.7 558,294.7 C558.6,296.6 559.3,298.6 559.8,300.7 C560.4,302.7 560.9,304.7 561.3,306.7 C561.8,308.8 562.1,310.8 562.5,312.9 C562.8,314.9 563,317 563.2,319 C563.4,321.1 563.5,323.1 563.6,325.2 C563.7,327.3 563.7,329.3 563.6,331.4 C563.6,333.4 563.5,335.5 563.4,337.5 C563.2,339.5 563,341.6 562.7,343.6 C562.5,345.6 562.2,347.6 561.8,349.7 C561.5,351.7 561.1,353.7 560.6,355.6 C560.2,357.6 559.6,359.6 559.1,361.6 C558.5,363.5 557.9,365.5 557.3,367.4 C556.6,369.3 555.9,371.2 555.2,373.1 C554.4,375 553.6,376.9 552.8,378.8 C551.9,380.6 551,382.5 550.1,384.3 C549.1,386.1 548.1,387.9 547.1,389.7 C546,391.4 545,393.2 543.8,394.9 C542.7,396.6 541.5,398.3 540.2,399.9 C539,401.6 537.7,403.2 536.3,404.8 C534.9,406.4 533.5,407.9 532.1,409.4 C530.6,410.9 529.1,412.4 527.6,413.8 C526,415.2 524.4,416.5 522.8,417.8 C521.2,419.1 519.5,420.4 517.7,421.6 C516,422.8 514.2,423.9 512.4,425 C510.6,426.1 508.7,427.1 506.9,428 C505,429 503,429.9 501.1,430.7 C499.1,431.5 497.1,432.3 495.1,432.9 C493.1,433.6 491.1,434.2 489,434.7 C487,435.3 484.9,435.7 482.8,436.1 C480.8,436.5 478.7,436.8 476.6,437 C474.5,437.2 472.3,437.4 470.2,437.5 C468.1,437.5 466,437.5 463.9,437.5 C461.8,437.4 459.7,437.3 457.6,437.1 C455.5,436.8 453.4,436.6 451.4,436.2 C449.3,435.9 446.2,435.2 445.2,435"/><path d="M487.3,339.7 C489.4,340.6 495.4,343.4 499.6,344.8 C503.7,346.2 507.9,347.7 512.2,348.2 C516.6,348.8 521.3,348 525.8,348.1 C530.3,348.3 534.8,347.8 539,349 C543.2,350.3 547.1,353.2 551,355.6 C554.9,358.1 558.3,362.2 562.4,363.8 C566.5,365.5 570.9,365.9 575.6,365.5 C580.2,365.1 587.7,362.1 590.1,361.4"/><path d="M484.9,346.1 C486.6,347.5 491.6,351.9 495.2,354.4 C498.8,356.9 502.3,359.5 506.4,361.3 C510.4,363.1 515.1,363.7 519.4,365 C523.7,366.4 528.2,367.1 531.9,369.4 C535.7,371.7 538.7,375.4 541.7,378.9 C544.8,382.3 546.9,387.2 550.4,390 C553.8,392.8 557.9,394.6 562.4,395.5 C566.9,396.4 575,395.6 577.5,395.6"/><path d="M480.1,352.3 C481.4,354 485.1,359.6 488.1,362.7 C491.1,365.9 494.6,368.6 498.3,371.2 C501.9,373.8 506.4,375.5 509.8,378.3 C513.2,381 516.3,384.2 518.7,387.9 C521.1,391.7 522,396.9 524.2,400.9 C526.3,404.9 528.1,409.1 531.4,412 C534.8,414.8 539.9,416.1 544.3,417.9 C548.7,419.8 555.5,422.2 557.7,423"/><path d="M474.2,356.4 C475,358.4 477.1,364.7 479.3,368.5 C481.4,372.3 484.3,375.8 487,379.3 C489.8,382.7 493.6,385.6 495.9,389.3 C498.3,393 500,397.1 501.2,401.5 C502.3,405.8 501.7,411 502.8,415.4 C503.9,419.8 504.9,424.1 507.6,427.7 C510.3,431.2 515.3,433.6 518.9,436.6 C522.6,439.6 527.9,444.1 529.7,445.6"/></g><path d="M487.6,329.2 L555.8,330.3 L554.7,418 L486.5,417 L487.6,329.2 L571,249.4 L574.3,246.5 L591.1,246.2 L623,218 L650.1,218 L649.6,298 L640,303 L637,303" fill="none" stroke="#000" stroke-width="2.8" stroke-linejoin="round" stroke-linecap="round"/><path d="M555.8,330.3 L636,250.5" fill="none" stroke="#000" stroke-width="2.6" stroke-linejoin="round" stroke-linecap="round"/><path d="M637,250 L637,334.7 L554.7,418" fill="none" stroke="#000" stroke-width="2.8" stroke-linejoin="round" stroke-linecap="round"/><path d="M650.1,218 L616.6,248.9 L630.7,247.8 L638.2,248.9" fill="none" stroke="#000" stroke-width="2.2" stroke-linejoin="round" stroke-linecap="round"/><path d="M590,216.4 L599.2,222.9 L609,229.4" fill="none" stroke="#000" stroke-width="1.5" stroke-linejoin="round" stroke-linecap="round"/><path d="M581.4,208.8 L587.9,202.9 L584.1,212.1 L579.7,221.3" fill="none" stroke="#000" stroke-width="2.2" stroke-linejoin="round" stroke-linecap="round"/><path d="M601.4,215.3 L606.3,213.7" fill="none" stroke="#000" stroke-width="1.8" stroke-linejoin="round" stroke-linecap="round"/><polygon points="210,415.6 238,386.7 249,604 220,634" fill="#fff"/><g clip-path="url(#c20)" fill="none" stroke="#000" stroke-width="1.4"><path d="M212.2,406.5 C212.3,407.7 212.5,411.5 212.7,414 C212.9,416.5 213.1,419 213.3,421.5 C213.4,424 213.6,426.5 213.8,429 C214,431.6 214.2,434.1 214.3,436.6 C214.5,439.1 214.7,441.6 214.8,444.1 C215,446.7 215.1,449.2 215.3,451.8 C215.4,454.3 215.5,456.9 215.6,459.5 C215.8,462.1 215.8,464.7 215.9,467.3 C216,469.9 216.1,472.5 216.1,475.1 C216.2,477.8 216.3,480.4 216.3,483 C216.4,485.7 216.4,488.3 216.4,491 C216.5,493.6 216.5,496.3 216.5,499 C216.6,501.6 216.6,504.3 216.7,506.9 C216.7,509.5 216.8,512.2 216.9,514.8 C216.9,517.4 217,520 217.1,522.6 C217.2,525.2 217.3,527.8 217.4,530.4 C217.5,533 217.6,535.6 217.7,538.2 C217.8,540.7 217.9,543.3 218.1,545.9 C218.2,548.4 218.3,551 218.4,553.6 C218.6,556.1 218.7,558.7 218.8,561.3 C218.9,563.8 219,566.4 219.2,569 C219.3,571.6 219.4,574.2 219.5,576.8 C219.6,579.4 219.6,582 219.7,584.6 C219.8,587.2 219.9,589.8 219.9,592.4 C220,595.1 220.1,597.7 220.1,600.3 C220.2,602.9 220.3,605.6 220.3,608.2 C220.4,610.8 220.5,613.4 220.6,616 C220.7,618.6 220.8,621.2 220.9,623.8 C221,626.4 221.1,629 221.2,631.5 C221.3,634.1 221.6,637.9 221.6,639.2"/><path d="M219.5,398.9 C219.6,400.2 219.7,404.1 219.8,406.7 C219.9,409.3 219.9,412 220,414.6 C220.1,417.2 220.2,419.8 220.3,422.4 C220.3,425 220.4,427.6 220.5,430.2 C220.6,432.8 220.7,435.4 220.8,438 C220.9,440.6 221,443.2 221.1,445.8 C221.2,448.4 221.3,450.9 221.4,453.5 C221.5,456.1 221.6,458.7 221.8,461.2 C221.9,463.8 222,466.4 222.1,468.9 C222.3,471.5 222.4,474.1 222.5,476.6 C222.7,479.2 222.8,481.7 222.9,484.3 C223,486.9 223.1,489.4 223.3,492 C223.4,494.6 223.5,497.2 223.6,499.8 C223.7,502.3 223.8,504.9 223.9,507.5 C224,510.1 224.1,512.7 224.1,515.4 C224.2,518 224.3,520.6 224.4,523.2 C224.4,525.8 224.5,528.5 224.5,531.1 C224.6,533.7 224.7,536.4 224.7,539 C224.8,541.6 224.8,544.3 224.9,546.9 C224.9,549.6 225,552.2 225.1,554.8 C225.1,557.4 225.2,560.1 225.3,562.7 C225.3,565.3 225.4,567.9 225.5,570.5 C225.6,573.1 225.7,575.7 225.8,578.3 C225.9,580.9 226,583.5 226.1,586 C226.3,588.6 226.4,591.2 226.5,593.7 C226.7,596.2 226.8,598.8 227,601.3 C227.1,603.8 227.3,606.4 227.5,608.9 C227.6,611.4 227.8,613.9 228,616.4 C228.2,618.9 228.3,621.5 228.5,624 C228.7,626.5 229,630.2 229.1,631.5"/><path d="M223.1,395.2 C223.1,396.5 223.3,400.4 223.4,403 C223.5,405.6 223.6,408.1 223.8,410.7 C223.9,413.2 224,415.8 224.2,418.4 C224.3,420.9 224.4,423.5 224.6,426 C224.7,428.6 224.9,431.1 225,433.6 C225.2,436.2 225.3,438.7 225.5,441.3 C225.6,443.8 225.8,446.3 225.9,448.9 C226.1,451.4 226.2,453.9 226.4,456.5 C226.5,459 226.7,461.6 226.8,464.1 C227,466.6 227.1,469.2 227.3,471.7 C227.4,474.3 227.6,476.8 227.7,479.4 C227.8,481.9 228,484.5 228.1,487 C228.2,489.6 228.4,492.1 228.5,494.7 C228.6,497.3 228.7,499.8 228.9,502.4 C229,505 229.1,507.5 229.2,510.1 C229.4,512.7 229.5,515.2 229.6,517.8 C229.7,520.4 229.8,523 229.9,525.5 C230.1,528.1 230.2,530.7 230.3,533.2 C230.4,535.8 230.5,538.4 230.7,540.9 C230.8,543.5 230.9,546.1 231,548.6 C231.2,551.2 231.3,553.8 231.4,556.3 C231.6,558.9 231.7,561.4 231.8,564 C232,566.5 232.1,569 232.3,571.6 C232.4,574.1 232.6,576.6 232.8,579.2 C232.9,581.7 233.1,584.2 233.3,586.7 C233.4,589.3 233.6,591.8 233.8,594.3 C233.9,596.8 234.1,599.3 234.3,601.8 C234.5,604.3 234.6,606.9 234.8,609.4 C235,611.9 235.2,614.4 235.4,616.9 C235.5,619.4 235.8,623.2 235.9,624.4"/><path d="M228.7,389.5 C228.8,390.7 229,394.5 229.2,397 C229.4,399.5 229.6,402 229.8,404.5 C230,407 230.1,409.5 230.3,412 C230.5,414.5 230.7,417 230.9,419.5 C231.1,422 231.3,424.4 231.5,426.9 C231.7,429.4 231.9,431.9 232.1,434.5 C232.2,437 232.4,439.5 232.6,442 C232.7,444.5 232.9,447.1 233,449.6 C233.2,452.1 233.3,454.7 233.5,457.2 C233.6,459.8 233.7,462.4 233.8,464.9 C233.9,467.5 234,470.1 234.1,472.7 C234.2,475.3 234.3,477.9 234.4,480.5 C234.5,483.1 234.6,485.7 234.7,488.3 C234.8,490.9 234.8,493.5 234.9,496.1 C235,498.7 235.1,501.4 235.2,504 C235.2,506.6 235.3,509.2 235.4,511.8 C235.5,514.4 235.6,517 235.7,519.6 C235.8,522.2 235.9,524.8 236,527.3 C236.1,529.9 236.2,532.5 236.3,535.1 C236.4,537.7 236.6,540.2 236.7,542.8 C236.8,545.4 236.9,547.9 237.1,550.5 C237.2,553 237.3,555.6 237.5,558.2 C237.6,560.7 237.7,563.3 237.8,565.8 C238,568.4 238.1,571 238.2,573.5 C238.3,576.1 238.5,578.7 238.6,581.3 C238.7,583.8 238.8,586.4 238.9,589 C239,591.6 239.1,594.2 239.2,596.8 C239.2,599.4 239.3,602 239.4,604.6 C239.5,607.3 239.5,609.9 239.6,612.5 C239.7,615.1 239.8,619.1 239.8,620.4"/><path d="M233.9,384 C234,385.3 234.3,389.1 234.4,391.6 C234.6,394.1 234.8,396.6 235,399.1 C235.1,401.7 235.3,404.2 235.5,406.7 C235.6,409.2 235.8,411.7 236,414.3 C236.1,416.8 236.3,419.3 236.4,421.9 C236.6,424.4 236.7,426.9 236.9,429.5 C237,432 237.2,434.6 237.3,437.1 C237.4,439.7 237.6,442.2 237.7,444.8 C237.8,447.4 237.9,449.9 238.1,452.5 C238.2,455.1 238.3,457.6 238.4,460.2 C238.6,462.7 238.7,465.3 238.8,467.9 C238.9,470.4 239.1,473 239.2,475.5 C239.3,478.1 239.5,480.6 239.6,483.2 C239.8,485.7 239.9,488.3 240.1,490.8 C240.2,493.3 240.4,495.8 240.6,498.4 C240.8,500.9 240.9,503.4 241.1,505.9 C241.3,508.4 241.5,510.9 241.7,513.4 C241.9,515.9 242.1,518.4 242.3,520.9 C242.5,523.4 242.6,525.9 242.8,528.3 C243,530.8 243.2,533.3 243.4,535.8 C243.6,538.3 243.8,540.8 244,543.4 C244.1,545.9 244.3,548.4 244.5,550.9 C244.6,553.4 244.8,556 244.9,558.5 C245.1,561.1 245.2,563.6 245.3,566.2 C245.4,568.8 245.5,571.3 245.7,573.9 C245.8,576.5 245.9,579.1 245.9,581.7 C246,584.3 246.1,586.9 246.2,589.5 C246.3,592.1 246.4,594.7 246.4,597.4 C246.5,600 246.6,602.6 246.6,605.2 C246.7,607.8 246.8,611.8 246.9,613.1"/></g><polygon points="164,418.5 210,415.6 220,634 193.6,634.6 181,444.5 164,442.6" fill="#fff"/><g clip-path="url(#c21)" fill="none" stroke="#000" stroke-width="1.4"><path d="M167.7,411.8 C167.7,413 167.8,416.9 167.9,419.4 C168,422 168,424.5 168.1,427 C168.2,429.6 168.2,432.1 168.3,434.7 C168.4,437.2 168.5,439.8 168.6,442.3 C168.7,444.8 168.8,447.4 168.9,449.9 C169,452.5 169.1,455 169.2,457.5 C169.4,460.1 169.5,462.6 169.6,465.2 C169.7,467.7 169.9,470.2 170,472.8 C170.1,475.3 170.3,477.9 170.4,480.4 C170.5,482.9 170.6,485.5 170.8,488 C170.9,490.6 171,493.1 171.1,495.7 C171.2,498.2 171.2,500.7 171.3,503.3 C171.4,505.8 171.4,508.4 171.5,510.9 C171.5,513.4 171.6,516 171.6,518.5 C171.6,521.1 171.6,523.6 171.7,526.2 C171.7,528.7 171.7,531.3 171.7,533.8 C171.7,536.3 171.7,538.9 171.7,541.4 C171.8,544 171.8,546.5 171.8,549 C171.8,551.6 171.9,554.1 171.9,556.7 C172,559.2 172.1,561.8 172.1,564.3 C172.2,566.8 172.3,569.4 172.4,571.9 C172.6,574.5 172.7,577 172.8,579.5 C173,582.1 173.1,584.6 173.3,587.1 C173.4,589.7 173.6,592.2 173.8,594.8 C174,597.3 174.2,599.8 174.4,602.4 C174.5,604.9 174.7,607.5 174.9,610 C175.1,612.5 175.3,615.1 175.5,617.6 C175.7,620.2 175.8,622.7 176,625.2 C176.2,627.8 176.3,630.3 176.5,632.8 C176.6,635.4 176.8,639.2 176.9,640.5"/><path d="M172.8,411.4 C172.8,412.7 172.9,416.5 172.9,419.1 C173,421.6 173,424.2 173.1,426.7 C173.2,429.3 173.2,431.8 173.3,434.4 C173.4,436.9 173.5,439.5 173.6,442 C173.7,444.6 173.8,447.1 174,449.7 C174.1,452.2 174.2,454.7 174.3,457.3 C174.5,459.8 174.6,462.4 174.8,464.9 C174.9,467.5 175.1,470 175.3,472.5 C175.4,475.1 175.6,477.6 175.7,480.2 C175.9,482.7 176.1,485.3 176.2,487.8 C176.4,490.3 176.6,492.9 176.7,495.4 C176.9,498 177.1,500.5 177.2,503.1 C177.4,505.6 177.5,508.1 177.7,510.7 C177.8,513.2 177.9,515.8 178.1,518.3 C178.2,520.9 178.3,523.4 178.5,526 C178.6,528.5 178.7,531 178.8,533.6 C178.9,536.1 179.1,538.7 179.2,541.2 C179.3,543.8 179.4,546.3 179.5,548.9 C179.6,551.4 179.7,553.9 179.8,556.5 C179.9,559 180.1,561.6 180.2,564.1 C180.3,566.7 180.4,569.2 180.5,571.8 C180.7,574.3 180.8,576.9 180.9,579.4 C181.1,581.9 181.2,584.5 181.4,587 C181.5,589.6 181.7,592.1 181.8,594.7 C182,597.2 182.2,599.8 182.4,602.3 C182.5,604.8 182.7,607.4 182.9,609.9 C183.1,612.5 183.3,615 183.5,617.6 C183.7,620.1 183.9,622.7 184.1,625.2 C184.3,627.8 184.5,630.3 184.7,632.8 C184.9,635.4 185.2,639.2 185.3,640.5"/><path d="M179.4,411 C179.5,412.3 179.8,416.1 180,418.6 C180.2,421.2 180.4,423.7 180.6,426.3 C180.8,428.8 181.1,431.4 181.3,433.9 C181.5,436.5 181.7,439 181.9,441.6 C182.1,444.1 182.4,446.6 182.6,449.2 C182.8,451.7 183,454.3 183.2,456.8 C183.4,459.4 183.5,461.9 183.7,464.5 C183.9,467 184,469.6 184.2,472.1 C184.3,474.7 184.5,477.2 184.6,479.8 C184.7,482.3 184.8,484.9 184.9,487.4 C185,490 185.1,492.5 185.2,495.1 C185.2,497.6 185.3,500.2 185.4,502.7 C185.4,505.3 185.5,507.8 185.6,510.4 C185.6,513 185.7,515.5 185.7,518.1 C185.8,520.6 185.8,523.2 185.9,525.7 C186,528.3 186,530.8 186.1,533.4 C186.2,535.9 186.3,538.5 186.4,541 C186.5,543.6 186.6,546.1 186.7,548.7 C186.8,551.2 186.9,553.8 187,556.3 C187.1,558.9 187.2,561.4 187.4,564 C187.5,566.5 187.6,569.1 187.7,571.6 C187.9,574.2 188,576.7 188.1,579.3 C188.2,581.8 188.3,584.4 188.4,586.9 C188.6,589.5 188.7,592 188.8,594.6 C188.9,597.1 188.9,599.7 189,602.2 C189.1,604.8 189.2,607.3 189.2,609.9 C189.3,612.4 189.3,615 189.4,617.5 C189.4,620.1 189.5,622.6 189.5,625.2 C189.5,627.7 189.6,630.3 189.6,632.8 C189.6,635.4 189.7,639.2 189.7,640.5"/><path d="M187.8,410.5 C187.9,411.7 188.2,415.6 188.4,418.1 C188.6,420.7 188.8,423.2 188.9,425.8 C189.1,428.3 189.3,430.9 189.4,433.4 C189.5,436 189.7,438.6 189.8,441.1 C189.9,443.7 190,446.2 190.1,448.8 C190.2,451.3 190.2,453.9 190.3,456.5 C190.3,459 190.4,461.6 190.4,464.1 C190.4,466.7 190.4,469.3 190.4,471.8 C190.4,474.4 190.4,476.9 190.4,479.5 C190.4,482.1 190.4,484.6 190.5,487.2 C190.5,489.7 190.5,492.3 190.5,494.9 C190.5,497.4 190.6,500 190.6,502.5 C190.7,505.1 190.7,507.7 190.8,510.2 C190.9,512.8 191,515.3 191.1,517.9 C191.2,520.4 191.3,523 191.4,525.5 C191.5,528.1 191.7,530.7 191.8,533.2 C191.9,535.8 192.1,538.3 192.2,540.9 C192.3,543.4 192.5,546 192.6,548.5 C192.7,551.1 192.9,553.6 193,556.2 C193.1,558.8 193.2,561.3 193.3,563.9 C193.4,566.4 193.5,569 193.6,571.5 C193.7,574.1 193.7,576.6 193.8,579.2 C193.9,581.8 193.9,584.3 194,586.9 C194.1,589.4 194.1,592 194.2,594.5 C194.3,597.1 194.4,599.6 194.4,602.2 C194.5,604.7 194.6,607.3 194.7,609.9 C194.9,612.4 195,615 195.1,617.5 C195.3,620.1 195.4,622.6 195.6,625.2 C195.8,627.7 196,630.3 196.2,632.8 C196.4,635.4 196.7,639.2 196.8,640.5"/><path d="M192.7,410.2 C192.7,411.4 192.8,415.3 192.9,417.8 C193,420.4 193.1,423 193.2,425.5 C193.3,428.1 193.4,430.6 193.5,433.2 C193.6,435.8 193.7,438.3 193.9,440.9 C194.1,443.4 194.2,446 194.4,448.5 C194.6,451.1 194.8,453.7 195,456.2 C195.3,458.8 195.5,461.3 195.7,463.9 C196,466.4 196.2,469 196.5,471.5 C196.7,474.1 197,476.6 197.2,479.2 C197.5,481.8 197.7,484.3 197.9,486.9 C198.1,489.4 198.4,492 198.5,494.5 C198.7,497.1 198.9,499.7 199,502.2 C199.2,504.8 199.3,507.3 199.4,509.9 C199.5,512.5 199.6,515 199.7,517.6 C199.8,520.2 199.8,522.7 199.9,525.3 C200,527.8 200,530.4 200.1,533 C200.1,535.5 200.2,538.1 200.3,540.7 C200.3,543.2 200.4,545.8 200.5,548.3 C200.6,550.9 200.7,553.5 200.8,556 C200.9,558.6 201,561.1 201.1,563.7 C201.2,566.3 201.4,568.8 201.5,571.4 C201.7,573.9 201.8,576.5 201.9,579.1 C202.1,581.6 202.2,584.2 202.3,586.7 C202.4,589.3 202.5,591.9 202.6,594.4 C202.7,597 202.8,599.6 202.9,602.1 C202.9,604.7 203,607.2 203,609.8 C203.1,612.4 203.1,614.9 203.1,617.5 C203.1,620 203.1,622.6 203.1,625.2 C203.1,627.7 203.1,630.3 203.1,632.8 C203.1,635.4 203.1,639.2 203.1,640.5"/><path d="M199.8,409.7 C199.8,411 200,414.8 200.1,417.4 C200.2,420 200.3,422.5 200.4,425.1 C200.6,427.6 200.7,430.2 200.9,432.8 C201,435.3 201.2,437.9 201.4,440.5 C201.6,443 201.8,445.6 202,448.1 C202.1,450.7 202.3,453.3 202.5,455.8 C202.6,458.4 202.8,461 202.9,463.5 C203.1,466.1 203.2,468.7 203.3,471.2 C203.3,473.8 203.4,476.4 203.4,478.9 C203.5,481.5 203.5,484.1 203.5,486.6 C203.5,489.2 203.5,491.8 203.4,494.3 C203.4,496.9 203.4,499.5 203.3,502.1 C203.3,504.6 203.3,507.2 203.3,509.8 C203.3,512.3 203.3,514.9 203.3,517.5 C203.3,520 203.4,522.6 203.4,525.2 C203.5,527.7 203.6,530.3 203.7,532.9 C203.8,535.4 204,538 204.1,540.5 C204.3,543.1 204.4,545.7 204.6,548.2 C204.7,550.8 204.9,553.4 205.1,555.9 C205.2,558.5 205.4,561.1 205.5,563.6 C205.6,566.2 205.7,568.7 205.9,571.3 C206,573.9 206.1,576.4 206.1,579 C206.2,581.6 206.3,584.1 206.4,586.7 C206.5,589.3 206.5,591.8 206.6,594.4 C206.7,596.9 206.8,599.5 206.9,602.1 C207,604.6 207.1,607.2 207.3,609.8 C207.4,612.3 207.6,614.9 207.8,617.5 C208,620 208.2,622.6 208.4,625.1 C208.7,627.7 208.9,630.3 209.2,632.8 C209.4,635.4 209.8,639.3 210,640.5"/><path d="M205.2,409.3 C205.2,410.6 205.3,414.5 205.3,417.1 C205.4,419.6 205.4,422.2 205.5,424.8 C205.6,427.3 205.7,429.9 205.8,432.5 C206,435.1 206.1,437.6 206.2,440.2 C206.4,442.8 206.5,445.3 206.6,447.9 C206.8,450.5 206.9,453 207.1,455.6 C207.2,458.2 207.3,460.7 207.4,463.3 C207.6,465.9 207.7,468.4 207.8,471 C207.9,473.6 208,476.1 208,478.7 C208.1,481.3 208.2,483.9 208.2,486.4 C208.3,489 208.4,491.6 208.4,494.1 C208.5,496.7 208.6,499.3 208.7,501.9 C208.7,504.4 208.8,507 209,509.6 C209.1,512.1 209.2,514.7 209.3,517.3 C209.5,519.8 209.7,522.4 209.8,525 C210,527.5 210.2,530.1 210.5,532.7 C210.7,535.2 210.9,537.8 211.2,540.4 C211.4,542.9 211.7,545.5 211.9,548.1 C212.2,550.6 212.4,553.2 212.7,555.8 C212.9,558.3 213.2,560.9 213.4,563.5 C213.6,566 213.8,568.6 214,571.2 C214.2,573.7 214.4,576.3 214.5,578.9 C214.7,581.4 214.8,584 214.9,586.6 C215,589.1 215.1,591.7 215.2,594.3 C215.3,596.9 215.4,599.4 215.4,602 C215.5,604.6 215.6,607.1 215.7,609.7 C215.7,612.3 215.8,614.8 215.9,617.4 C216,620 216.1,622.6 216.2,625.1 C216.3,627.7 216.4,630.3 216.6,632.8 C216.7,635.4 216.9,639.3 217,640.5"/></g><polygon points="154,472.4 181,444.5 193.6,665 163,695.5" fill="#fff"/><g clip-path="url(#c22)" fill="none" stroke="#000" stroke-width="1.4"><path d="M157.5,462.1 C157.6,463.3 157.9,467.2 158,469.8 C158.2,472.3 158.3,474.9 158.5,477.5 C158.6,480.1 158.7,482.7 158.8,485.4 C158.9,488 159,490.7 159.1,493.3 C159.1,496 159.2,498.7 159.2,501.3 C159.3,504 159.3,506.7 159.3,509.4 C159.3,512.2 159.4,514.9 159.4,517.6 C159.4,520.3 159.4,523 159.4,525.8 C159.4,528.5 159.4,531.2 159.4,533.9 C159.4,536.7 159.4,539.4 159.4,542.1 C159.5,544.8 159.5,547.5 159.5,550.2 C159.6,552.9 159.7,555.5 159.7,558.2 C159.8,560.9 159.9,563.5 160,566.1 C160.1,568.8 160.2,571.4 160.3,574 C160.4,576.7 160.5,579.3 160.6,581.9 C160.7,584.5 160.8,587.1 161,589.8 C161.1,592.4 161.2,595 161.3,597.6 C161.4,600.2 161.5,602.9 161.6,605.5 C161.7,608.1 161.8,610.8 161.9,613.4 C162,616.1 162,618.7 162.1,621.4 C162.1,624.1 162.2,626.8 162.2,629.4 C162.3,632.1 162.3,634.8 162.4,637.5 C162.4,640.2 162.5,642.9 162.5,645.6 C162.5,648.3 162.6,651 162.6,653.6 C162.7,656.3 162.8,659 162.8,661.6 C162.9,664.3 163,666.9 163.1,669.6 C163.2,672.2 163.3,674.8 163.5,677.4 C163.6,680 163.8,682.6 163.9,685.2 C164.1,687.7 164.3,690.3 164.5,692.8 C164.7,695.4 165,699.1 165.1,700.4"/><path d="M162.7,457 C162.8,458.3 163.2,462.1 163.4,464.6 C163.6,467.2 163.8,469.7 163.9,472.3 C164.1,474.8 164.3,477.4 164.4,480 C164.6,482.6 164.7,485.2 164.8,487.8 C164.9,490.4 165,493 165.1,495.7 C165.2,498.3 165.3,501 165.3,503.6 C165.4,506.3 165.4,509 165.5,511.7 C165.5,514.4 165.5,517.1 165.6,519.8 C165.6,522.5 165.6,525.2 165.6,527.9 C165.7,530.6 165.7,533.3 165.7,536 C165.8,538.7 165.8,541.4 165.8,544.1 C165.9,546.7 166,549.4 166,552.1 C166.1,554.7 166.2,557.4 166.3,560 C166.4,562.7 166.5,565.3 166.6,567.9 C166.7,570.5 166.8,573.2 166.9,575.8 C167,578.4 167.1,581 167.2,583.6 C167.4,586.2 167.5,588.9 167.6,591.5 C167.7,594.1 167.8,596.7 167.9,599.4 C168,602 168.1,604.6 168.2,607.3 C168.2,609.9 168.3,612.6 168.4,615.3 C168.4,618 168.5,620.6 168.5,623.3 C168.5,626 168.6,628.7 168.6,631.4 C168.6,634.1 168.6,636.8 168.7,639.6 C168.7,642.3 168.7,645 168.7,647.7 C168.8,650.4 168.8,653.1 168.8,655.8 C168.9,658.4 168.9,661.1 169,663.8 C169.1,666.5 169.2,669.1 169.3,671.7 C169.4,674.4 169.5,677 169.6,679.6 C169.7,682.2 169.9,684.8 170.1,687.3 C170.2,689.9 170.5,693.7 170.6,695"/><path d="M166.9,453.1 C167,454.3 167.2,458.2 167.4,460.7 C167.6,463.2 167.9,465.7 168.1,468.2 C168.3,470.7 168.6,473.2 168.9,475.7 C169.1,478.2 169.4,480.6 169.7,483.1 C169.9,485.6 170.2,488.1 170.4,490.6 C170.6,493 170.9,495.6 171.1,498.1 C171.3,500.6 171.5,503.2 171.6,505.7 C171.8,508.3 171.9,510.9 172.1,513.5 C172.2,516.1 172.3,518.7 172.4,521.4 C172.5,524 172.6,526.6 172.6,529.3 C172.7,532 172.8,534.6 172.8,537.3 C172.9,539.9 173,542.6 173.1,545.2 C173.2,547.9 173.2,550.5 173.3,553.1 C173.5,555.8 173.6,558.4 173.7,561 C173.8,563.6 174,566.2 174.1,568.7 C174.3,571.3 174.4,573.9 174.6,576.5 C174.7,579.1 174.9,581.6 175,584.2 C175.2,586.8 175.3,589.4 175.4,592 C175.5,594.7 175.6,597.3 175.7,599.9 C175.8,602.6 175.8,605.3 175.8,608 C175.9,610.7 175.9,613.4 175.9,616.1 C175.9,618.9 175.8,621.6 175.8,624.4 C175.8,627.1 175.8,629.9 175.7,632.6 C175.7,635.4 175.7,638.2 175.7,640.9 C175.6,643.6 175.6,646.4 175.7,649.1 C175.7,651.8 175.7,654.5 175.8,657.1 C175.9,659.8 176,662.4 176.1,665 C176.2,667.7 176.3,670.2 176.5,672.8 C176.6,675.4 176.8,677.9 177,680.5 C177.2,683 177.5,686.8 177.6,688.1"/><path d="M174.6,445.6 C174.7,446.9 174.8,450.9 174.9,453.6 C174.9,456.2 175,458.9 175.1,461.5 C175.2,464.1 175.3,466.8 175.4,469.4 C175.4,472.1 175.5,474.7 175.6,477.3 C175.7,480 175.8,482.6 175.9,485.2 C176.1,487.8 176.2,490.4 176.3,493 C176.4,495.6 176.6,498.2 176.7,500.8 C176.8,503.4 177,506 177.1,508.6 C177.2,511.2 177.4,513.8 177.5,516.4 C177.7,519 177.8,521.6 177.9,524.2 C178.1,526.8 178.2,529.4 178.3,532 C178.4,534.6 178.5,537.2 178.6,539.9 C178.7,542.5 178.8,545.1 178.9,547.8 C178.9,550.4 179,553.1 179,555.8 C179.1,558.4 179.1,561.1 179.2,563.8 C179.2,566.5 179.2,569.2 179.3,571.9 C179.3,574.6 179.3,577.3 179.3,580.1 C179.3,582.8 179.3,585.5 179.4,588.2 C179.4,590.9 179.4,593.6 179.4,596.3 C179.5,599 179.5,601.7 179.5,604.4 C179.6,607 179.6,609.7 179.7,612.4 C179.8,615 179.9,617.7 180,620.3 C180.1,622.9 180.2,625.5 180.3,628.1 C180.4,630.7 180.6,633.3 180.7,635.9 C180.9,638.5 181,641.1 181.2,643.6 C181.4,646.2 181.6,648.7 181.8,651.3 C181.9,653.8 182.1,656.4 182.3,658.9 C182.5,661.4 182.7,664 182.9,666.5 C183.1,669.1 183.3,671.6 183.4,674.2 C183.6,676.7 183.9,680.6 183.9,681.8"/><path d="M180.3,440.2 C180.4,441.5 180.7,445.2 180.9,447.8 C181.1,450.3 181.2,452.9 181.4,455.4 C181.6,458 181.7,460.6 181.9,463.1 C182,465.7 182.2,468.3 182.3,470.9 C182.4,473.5 182.5,476.1 182.6,478.8 C182.7,481.4 182.8,484 182.9,486.7 C183,489.3 183,492 183.1,494.6 C183.1,497.3 183.2,500 183.3,502.7 C183.3,505.3 183.4,508 183.4,510.7 C183.5,513.4 183.5,516 183.6,518.7 C183.6,521.4 183.7,524 183.7,526.7 C183.8,529.4 183.9,532 183.9,534.7 C184,537.3 184.1,540 184.2,542.6 C184.3,545.2 184.4,547.9 184.5,550.5 C184.6,553.1 184.7,555.7 184.8,558.3 C184.9,560.9 185.1,563.5 185.2,566.1 C185.3,568.7 185.5,571.3 185.6,573.9 C185.7,576.5 185.8,579.1 186,581.7 C186.1,584.3 186.2,586.9 186.3,589.5 C186.5,592.1 186.6,594.8 186.7,597.4 C186.8,600 186.9,602.6 187,605.3 C187.1,607.9 187.2,610.5 187.2,613.2 C187.3,615.8 187.4,618.5 187.4,621.2 C187.5,623.8 187.6,626.5 187.6,629.2 C187.7,631.8 187.7,634.5 187.8,637.2 C187.8,639.9 187.8,642.6 187.9,645.2 C187.9,647.9 188,650.6 188.1,653.3 C188.1,655.9 188.2,658.6 188.3,661.2 C188.3,663.9 188.4,666.5 188.5,669.2 C188.6,671.8 188.8,675.7 188.8,677"/></g><polygon points="44,477 154,472.4 163,695.5 52,699.4" fill="#fff"/><g clip-path="url(#c23)" fill="none" stroke="#000" stroke-width="1.4"><path d="M44,540 C44.6,540.9 45.7,539.9 47.6,545.6 C49.5,551.4 52.9,564.1 55.3,574.5 C57.7,584.9 60.5,595.6 62,607.9 C63.5,620.1 64,637.6 64.2,648 C64.4,658.4 62.9,661.5 63.1,670.2 C63.3,678.9 65,695 65.4,700"/><path d="M55.3,476 C55.9,482.8 57,509.2 58.7,516.7 C60.4,524.2 64.1,516.8 65.4,521.2 C66.7,525.7 65.6,536.4 66.5,543.4 C67.4,550.4 69.4,555.2 70.9,563.4 C72.4,571.5 73.9,581.9 75.4,592.3 C76.9,602.7 78.5,614.6 79.8,625.7 C81.1,636.8 82.2,646.6 83.1,659 C84,671.4 85,693.2 85.4,700"/><path d="M82,476 C82.4,482.4 83.5,500.7 84.3,514.5 C85,528.3 85.2,544.2 86.5,559 C87.8,573.8 90.5,588.7 92,603.5 C93.5,618.3 94.5,631.9 95.4,648 C96.3,664.1 97.2,691.3 97.6,700"/><path d="M100.9,476 C100.5,482.4 99.2,500.7 98.7,514.5 C98.2,528.3 97,544.2 97.6,559 C98.2,573.8 100.2,588.7 102.1,603.5 C103.9,618.3 106.5,631.9 108.7,648 C110.9,664.1 114.3,691.3 115.4,700"/><path d="M116.5,476 C116.7,483.9 116.3,515.1 117.6,523.4 C118.9,531.7 123.4,519.7 124.3,525.6 C125.2,531.5 123.6,546 123.2,559 C122.8,572 121.7,588.7 122.1,603.5 C122.5,618.3 124.3,631.9 125.4,648 C126.5,664.1 128.1,691.3 128.7,700"/><path d="M137.6,476 C137.4,482.4 136.5,500.7 136.5,514.5 C136.5,528.3 136.7,544.2 137.6,559 C138.5,573.8 139.9,588.7 142.1,603.5 C144.3,618.3 148.4,631.9 151,648 C153.6,664.1 156.6,691.3 157.7,700"/></g><polygon points="44,477 123.5,391.6 238,386.7 210,415.6 164,418.5 139,442.6 181,444.5 154,472.4" fill="#fff"/><g clip-path="url(#c24)" fill="none" stroke="#000" stroke-width="1.3"><path d="M130.8,392 C131.7,393.9 133.9,399.6 135.9,403.2 C137.9,406.8 140.2,409.9 143.1,413.3 C146,416.7 151.5,421.7 153.2,423.4"/><path d="M148.9,391 C150.1,392.6 153.7,397.6 156.1,400.3 C158.5,403.1 160.7,404.9 163.3,407.5 C166,410.1 170.6,414.8 172,416.2"/><path d="M170.5,389 C171.2,390.6 173.2,396.3 174.9,398.9 C176.6,401.5 178.2,402.5 180.6,404.7 C183,406.9 186.4,410 189.3,411.9 C192.2,413.8 196.6,415.5 198,416.2"/><path d="M186.4,388.5 C187.1,390 188.9,394.7 190.8,397.4 C192.7,400.1 195.4,402.5 198,404.7 C200.6,406.9 204.2,409.2 206.6,410.4 C209,411.6 211.4,411.6 212.4,411.9"/><path d="M208.1,388.5 C209.1,389.8 212,394 213.9,396 C215.8,398 218.7,399.6 219.6,400.3"/><path d="M124.3,400.3 C125,402.2 127,408.3 128.7,411.9 C130.4,415.5 132.7,418.9 134.4,422 C136.1,425.1 137.8,427.1 138.8,430.7 C139.8,434.3 140,441.5 140.2,443.6"/><path d="M150.3,414 C152.5,413.2 159.2,410.8 163.3,409 C167.4,407.2 171.5,404.9 174.9,403.2 C178.3,401.5 180.7,400.4 183.5,398.9 C186.3,397.4 190.6,394.8 192,394"/><path d="M156.1,397.4 C157.3,396.8 160.9,395 163.3,393.8 C165.7,392.6 169.3,390.8 170.5,390.2"/><path d="M187.9,410.4 C190.1,409.2 196.6,405.4 200.9,403.2 C205.2,401 210.1,399.1 213.9,397.4 C217.8,395.7 222.3,393.7 224,393"/><path d="M120,430.7 C121.5,430.2 125.6,429 128.7,427.8 C131.8,426.6 137.1,424.1 138.8,423.4"/><path d="M81.5,444.6 C82.4,447.3 86.6,455.4 86.9,460.8 C87.2,466.2 83.9,474.3 83.3,477"/><path d="M92.3,430.1 C93.8,432.5 99,439.5 101.4,444.6 C103.8,449.7 105.6,455.6 106.8,460.8 C108,466 108.3,473.5 108.6,476"/><path d="M103.2,419.3 C105,422.3 111.3,431 114,437.3 C116.7,443.6 117.9,450.8 119.4,457.2 C120.9,463.6 122.4,472.9 123,476"/><path d="M112.2,410.3 C114.6,413.6 123,423.2 126.6,430.1 C130.2,437 132.1,444.2 133.9,451.8 C135.7,459.4 136.9,472 137.5,476"/><path d="M123,395.8 C124.8,397.9 131.2,403.7 133.9,408.5 C136.6,413.3 138.1,419.6 139.3,424.7 C140.5,429.8 140.8,436.8 141.1,439.2"/><path d="M67,457 C68.2,458.2 73.4,461.2 74.3,464.4 C75.2,467.6 72.8,474.1 72.5,476"/><path d="M58,470 C64,469.1 83.7,465.9 94.2,464.4 C104.7,462.9 112.2,462 121.2,460.8 C130.2,459.6 141.8,458.2 148.3,457.2 C154.8,456.2 158.1,455.4 160,455"/><path d="M66,463 C71.6,461.1 89.5,454.9 99.6,451.8 C109.7,448.7 119.7,446.4 126.6,444.6 C133.5,442.8 138.7,441.6 141.1,441"/><path d="M76.1,448.2 C80.6,447 95.4,443.4 103.2,441 C111,438.6 117.7,435.5 123,433.7 C128.3,431.9 133,430.6 135,430"/><path d="M88.7,433.7 C92.6,432.5 105.3,428.9 112.2,426.5 C119.1,424.1 125.5,421.7 130.3,419.3 C135.1,416.9 137.8,413.8 141.1,412.1 C144.4,410.4 148.5,409.5 150,409"/><path d="M103.2,419.3 C106.8,417.5 118.5,411.2 124.8,408.5 C131.1,405.8 136.6,404.6 141.1,403 C145.6,401.4 150.2,399.7 152,399"/><path d="M117.6,406.7 C120.2,405.6 127.9,402.1 133,400 C138.1,397.9 143.8,395.7 148.3,394 C152.8,392.3 158.1,390.7 160,390"/></g><path d="M164,418.5 L139,442.6 L164,442.6Z" fill="#000"/><path d="M44,477 L123.5,391.6 L238,386.7 L210,415.6 L164,418.5 L139,442.6 L181,444.5 L154,472.4Z" fill="none" stroke="#000" stroke-width="2.8" stroke-linejoin="round" stroke-linecap="round"/><path d="M44,477 L52,699.4 L163,695.5 L193.6,665 L193.6,634.6 L220,634 L249,604 L238,386.7" fill="none" stroke="#000" stroke-width="2.8" stroke-linejoin="round" stroke-linecap="round"/><path d="M154,472.4 L163,695.5" fill="none" stroke="#000" stroke-width="2.8" stroke-linejoin="round" stroke-linecap="round"/><path d="M181,444.5 L193.6,634.6" fill="none" stroke="#000" stroke-width="2.8" stroke-linejoin="round" stroke-linecap="round"/><path d="M210,415.6 L220,634" fill="none" stroke="#000" stroke-width="2.6" stroke-linejoin="round" stroke-linecap="round"/><path d="M225.5,432 L252.5,421.4" fill="none" stroke="#000" stroke-width="1.4" stroke-linejoin="round" stroke-linecap="round"/><polygon points="359.8,466 431.4,387.3 442.5,609.4 369,688.8" fill="#fff"/><g clip-path="url(#c25)" fill="none" stroke="#000" stroke-width="1.35"><path d="M368.1,443.4 C368.1,445.4 367.9,445.4 368.1,455.1 C368.4,464.8 368.9,484.3 369.6,501.8 C370.3,519.3 371.5,540.8 372.5,560.2 C373.5,579.7 374.7,596.7 375.4,618.6 C376.2,640.5 376.7,679.5 376.9,691.7"/><path d="M382.7,428.8 C382.5,430.8 381.8,432.7 381.3,440.5 C380.8,448.3 379.3,468.7 379.8,475.5 C380.3,482.4 383.7,474.1 384.2,481.4 C384.7,488.7 382,512 382.7,519.3 C383.5,526.6 387.6,523.2 388.6,525.2 C389.6,527.1 388.3,525.2 388.6,531 C388.8,536.9 390.3,545.6 390,560.2 C389.8,574.8 388.1,596.7 387.1,618.6 C386.2,640.5 384.7,679.5 384.2,691.7"/><path d="M390,420 C389.8,423 389.1,428.3 388.6,437.6 C388.1,446.8 386.4,468.2 387.1,475.5 C387.9,482.8 392.2,476 393,481.4 C393.7,486.7 391.3,500.4 391.5,507.7 C391.8,515 393.2,516.4 394.4,525.2 C395.6,533.9 397.6,544.7 398.8,560.2 C400,575.8 401,596.7 401.7,618.6 C402.5,640.5 402.9,679.5 403.2,691.7"/><path d="M403.2,411.3 C403.2,413.2 402.7,413.7 403.2,423 C403.7,432.2 404.9,458.5 406.1,466.8 C407.3,475.1 410,470.2 410.5,472.6 C411,475.1 408.8,476.5 409,481.4 C409.3,486.2 411.2,488.7 412,501.8 C412.7,515 412.7,540.8 413.4,560.2 C414.1,579.7 415.6,596.7 416.3,618.6 C417.1,640.5 417.5,679.5 417.8,691.7"/><path d="M413.4,402.5 C413.4,404.5 412.9,402.5 413.4,414.2 C413.9,425.9 415.6,453.1 416.3,472.6 C417.1,492.1 416.8,511.6 417.8,531 C418.8,550.5 421,562.7 422.2,589.4 C423.4,616.2 424.6,674.6 425.1,691.7"/><path d="M422.2,390.8 C422.2,392.8 421.7,388.9 422.2,402.5 C422.7,416.2 424.1,451.2 425.1,472.6 C426.1,494 426.8,511.6 428,531 C429.2,550.5 431.4,562.7 432.4,589.4 C433.4,616.2 433.6,674.6 433.9,691.7"/><path d="M429.5,385 C429.5,386.5 429.2,384 429.5,393.8 C429.7,403.5 430.2,420.5 430.9,443.4 C431.7,466.3 432.9,506.7 433.9,531 C434.8,555.4 436,562.7 436.8,589.4 C437.5,616.2 438,674.6 438.2,691.7"/><path d="M374,460.9 C374.2,467.7 374.7,485.3 375.4,501.8 C376.2,518.4 377.4,535.9 378.4,560.2 C379.3,584.6 380.6,625.9 381.3,647.9 C382,669.8 382.5,684.4 382.7,691.7"/></g><polygon points="312.7,468 359.8,466 369,688.8 318.6,690" fill="#fff"/><g clip-path="url(#c26)" fill="none" stroke="#000" stroke-width="1.3"><path d="M320.7,469 C320.4,474.6 319.1,492 319.1,502.7 C319.1,513.4 319.4,527.8 320.7,533.4 C322,539 326.3,531.3 326.8,536.4 C327.3,541.6 324.8,549.2 323.7,564 C322.7,578.9 320.9,604.9 320.7,625.4 C320.4,645.8 322,676.5 322.2,686.7"/><path d="M328.3,469 C328.6,474.6 329.1,489.4 329.9,502.7 C330.6,516 332.7,533.4 332.9,548.7 C333.2,564 331.9,576.8 331.4,594.7 C330.9,612.6 330.4,640.7 329.9,656.1 C329.4,671.4 328.6,681.6 328.3,686.7"/><path d="M336,469 C336.5,475.6 337.8,493 339.1,508.8 C340.4,524.7 343.2,544.6 343.7,564 C344.2,583.5 342.7,604.9 342.1,625.4 C341.6,645.8 340.9,676.5 340.6,686.7"/><path d="M343.7,469 C343.9,474.6 344.4,492 345.2,502.7 C346,513.4 347.3,525.7 348.3,533.4 C349.3,541 350.6,538.5 351.3,548.7 C352.1,558.9 352.9,571.7 352.9,594.7 C352.9,617.7 351.6,671.4 351.3,686.7"/><path d="M351.3,469 C351.6,473.6 353.1,489.4 352.9,496.6 C352.6,503.7 349.6,508.3 349.8,511.9 C350.1,515.5 353.4,509.3 354.4,518 C355.4,526.7 354.9,546.2 356,564 C357,581.9 359.3,604.9 360.6,625.4 C361.8,645.8 363.1,676.5 363.6,686.7"/><path d="M356,469 C356.2,474.6 356.7,486.9 357.5,502.7 C358.3,518.5 359.3,543.6 360.6,564 C361.8,584.5 363.9,604.9 365.2,625.4 C366.4,645.8 367.7,676.5 368.2,686.7"/></g><polygon points="299.4,435.4 321,414.3 357.7,412.8 382.3,387.7 431.4,387.3 359.8,466 312.7,468" fill="#fff"/><g clip-path="url(#c27)" fill="none" stroke="#000" stroke-width="1.3"><path d="M310.7,415.9 C311,418 312.7,424.4 312.7,428.2 C312.7,431.9 311,436.7 310.7,438.4"/><path d="M327.1,413.9 C327.7,415.9 330.6,421.4 331.1,426.1 C331.7,430.9 330.5,437.4 330.1,442.5 C329.8,447.6 329.4,452.1 329.1,456.8 C328.8,461.6 328.2,468.8 328.1,471.2"/><path d="M341.4,412.8 C342.4,415.1 346.5,421.2 347.5,426.1 C348.5,431.1 347.9,437.4 347.5,442.5 C347.2,447.6 346,452.1 345.5,456.8 C345,461.6 344.6,468.8 344.4,471.2"/><path d="M355.7,411.8 C357.4,413.9 363.5,420 365.9,424.1 C368.3,428.2 369.7,431.9 370,436.4 C370.4,440.8 368.7,445.9 368,450.7 C367.3,455.5 366.3,462.6 365.9,465"/><path d="M370,397.5 C371.4,400.2 376.2,409.1 378.2,413.9 C380.2,418.6 381.6,422.4 382.3,426.1 C383,429.9 382.3,434.7 382.3,436.4"/><path d="M386.4,387.3 C387.4,389.3 390.5,395.5 392.5,399.5 C394.6,403.6 397.3,408.4 398.7,411.8 C400,415.2 400.4,418.6 400.7,420"/><path d="M402.7,387.3 C403.4,389.3 405.8,396.1 406.8,399.5 C407.9,403 408.5,406.4 408.9,407.7"/><path d="M419.1,387.3 L421.2,395.5"/><path d="M306.6,433.3 C312.4,431.8 330.5,427 341.4,424.1 C352.3,421.2 363.2,418.6 372.1,415.9 C380.9,413.2 388.1,410.1 394.6,407.7 C401,405.3 408.2,402.6 410.9,401.6"/><path d="M314.8,445.6 C320.2,444 336.9,439.6 347.5,436.4 C358.1,433.1 369,429.6 378.2,426.1 C387.4,422.7 398.7,417.6 402.7,415.9"/><path d="M318.9,457.9 C324.3,456.3 341.7,451.5 351.6,448.6 C361.5,445.8 371,442.9 378.2,440.5 C385.4,438.1 391.8,435.4 394.6,434.3"/><path d="M325,466 C328.8,465.2 340.7,463.1 347.5,460.9 C354.3,458.7 362.9,454.1 365.9,452.7"/><path d="M363.9,402.6 C368.3,401.1 382,395.8 390.5,393.4 C399,391 410.9,389.2 415,388.3"/><path d="M368,410.8 C372.4,409.3 385.7,404.3 394.6,401.6 C403.4,398.9 416.7,395.6 421.2,394.4"/></g><path d="M299.4,436 L336,441 L312.7,468 L317.4,657.6 L306.6,657.6Z" fill="#000"/><path d="M299.4,435.4 L321,414.3 L357.7,412.8 L382.3,387.7 L431.4,387.3 L359.8,466 L312.7,468Z" fill="none" stroke="#000" stroke-width="2.8" stroke-linejoin="round" stroke-linecap="round"/><path d="M312.7,468 L318.6,690 L369,688.8 L398,656.7 L397.4,638.7 L405.9,663.3 L407.7,646.5 L419.1,633.2 L442.5,609.4 L431.4,387.3" fill="none" stroke="#000" stroke-width="2.8" stroke-linejoin="round" stroke-linecap="round"/><path d="M359.8,466 L369,688.8" fill="none" stroke="#000" stroke-width="2.6" stroke-linejoin="round" stroke-linecap="round"/><path d="M425.7,543 L436.5,541 L436.5,556.5 L425.7,558Z" fill="#000"/><path d="M280,474 L299.4,477.3" fill="none" stroke="#000" stroke-width="1.4" stroke-linejoin="round" stroke-linecap="round"/><polygon points="747.1,424.8 792.6,387.3 791.9,546.3 745,594" fill="#fff"/><g clip-path="url(#c28)" fill="none" stroke="#000" stroke-width="1.3"><path d="M754,425 C753.9,429.2 753.5,443.8 753.5,450 C753.5,456.2 753.2,459.2 754,462 C754.8,464.8 757.7,460.7 758,467 C758.3,473.3 756.4,487.8 756,500 C755.6,512.2 755.3,526.7 755.5,540 C755.7,553.3 756.8,570 757,580 C757.2,590 757,596.7 757,600"/><path d="M763.8,415 C763.7,420.8 763,437.5 763,450 C763,462.5 763.4,476.7 763.5,490 C763.6,503.3 763.7,515 763.8,530 C763.9,545 764,571.7 764,580"/><path d="M773.9,405 C773.8,412.5 773.8,435.8 773.5,450 C773.2,464.2 772.4,476.7 772,490 C771.6,503.3 771.2,516.7 771,530 C770.8,543.3 771,563.3 771,570"/><path d="M784,395 C784,400.8 784.2,417.5 784,430 C783.8,442.5 783.5,456.7 783,470 C782.5,483.3 781.5,495 781,510 C780.5,525 780.2,551.7 780,560"/><path d="M749.5,470 C749.5,478.3 749.3,505 749.3,520 C749.3,535 749.5,553.3 749.5,560"/></g><polygon points="688.7,423.4 747.1,424.8 745,594 721.9,592.5 711,611.3 714.7,583.9 708.9,592.5 687.2,592.5 688,500" fill="#fff"/><g clip-path="url(#c29)" fill="none" stroke="#000" stroke-width="1.3"><path d="M703.1,432.8 C702.1,435.2 699.5,442.4 697.3,447.2 C695.2,452 691.6,456.8 690.1,461.6 C688.7,466.5 689,471.3 688.7,476.1 C688.3,480.9 688.1,488.1 687.9,490.5"/><path d="M711.8,427 C711.3,429.9 710.3,439.5 708.9,444.3 C707.4,449.1 705.3,451.8 703.1,455.9 C700.9,460 697.3,464 695.9,468.9 C694.4,473.7 694.7,479.5 694.4,484.7 C694.2,489.9 694.4,497.5 694.4,500.1"/><path d="M721.9,438.5 C721.4,440.9 720.2,448.6 719,453 C717.8,457.3 715.4,462.6 714.7,464.5"/><path d="M730.5,442.9 C730.1,445 728.4,452.5 727.7,455.9 C726.9,459.2 726.5,461.9 726.2,463.1"/><path d="M743.5,437.1 C742.6,440.2 739,450.8 737.8,455.9 C736.6,460.9 736.1,464 736.3,467.4 C736.6,470.8 739,470.6 739.2,476.1 C739.4,481.5 738,496.1 737.8,500.1"/><path d="M701.7,530.4 C701.4,533.8 701.4,546.1 700.2,550.6 C699,555.2 695.9,553.5 694.4,557.9 C693,562.2 692.5,571.6 691.6,576.6 C690.6,581.7 689.1,586.3 688.7,588.2"/><path d="M716.1,534.8 C715.9,537.4 715.9,546.1 714.7,550.6 C713.5,555.2 710.6,557.9 708.9,562.2 C707.2,566.5 705.5,571.8 704.5,576.6 C703.6,581.5 703.3,588.7 703.1,591.1"/><path d="M730.5,529 C730.1,531.6 728.6,540.1 727.7,544.9 C726.7,549.7 724.5,554.5 724.8,557.9 C725,561.2 728.6,562 729.1,565.1 C729.6,568.2 728.6,572.3 727.7,576.6 C726.7,581 724,588.7 723.3,591.1"/><path d="M737.8,488.6 C737.8,492.4 737.3,504.4 737.8,511.7 C738.2,518.9 740.6,523.5 740.6,531.9 C740.6,540.3 738,553.8 737.8,562.2 C737.5,570.6 739,579 739.2,582.4"/><path d="M694.4,488.6 C694,491.2 692.5,499.4 691.6,504.4 C690.6,509.5 689.1,516.5 688.7,518.9"/></g><polygon points="688.7,423.4 732,382.9 792.6,387.3 747.1,424.8" fill="#fff"/><g clip-path="url(#c30)" fill="none" stroke="#000" stroke-width="1.3"><path d="M701.7,418.3 C705.3,417.1 717.3,412.8 723.3,411.1 C729.3,409.4 735.4,408.7 737.8,408.2"/><path d="M721.9,401 C723.8,400.4 729.6,398.6 733.4,397.4 C737.3,396.2 743.1,394.4 745,393.8"/><path d="M749.3,402.4 C751.2,401.5 756.8,398.6 760.9,396.7 C765,394.7 771.7,391.8 773.9,390.9"/><path d="M734.9,416.9 C736.6,416.4 741.4,414.8 745,414 C748.6,413.1 754.6,412.2 756.5,411.8"/><path d="M737.8,385.1 C738.2,386.6 740.4,391.6 740.6,393.8 C740.9,395.9 739.4,397.4 739.2,398.1"/><path d="M723.3,396.7 C723.6,398.8 725,407 724.8,409.7 C724.5,412.3 722.4,412.1 721.9,412.5"/><path d="M708.9,409.7 L711.8,415.4"/><path d="M763.8,386.6 C764,387.8 765.1,391.4 765.2,393.8 C765.3,396.2 764.6,399.8 764.5,401"/><path d="M750.8,386.6 L752.2,392.3"/></g><path d="M688.7,423.4 L732,382.9 L792.6,387.3 L747.1,424.8 L688.7,423.4" fill="none" stroke="#000" stroke-width="2.8" stroke-linejoin="round" stroke-linecap="round"/><path d="M792.6,387.3 L791.9,546.3 L745,594 L721.9,592.5 L711,611.3 L714.7,583.9 L708.9,592.5 L687.2,592.5 L688,500 L688.7,423.4" fill="none" stroke="#000" stroke-width="2.8" stroke-linejoin="round" stroke-linecap="round"/><path d="M747.1,424.8 L745,594" fill="none" stroke="#000" stroke-width="2.6" stroke-linejoin="round" stroke-linecap="round"/><path d="M700.4,488 C700.4,471 708,465.4 716,465.4 C727,465.4 733.3,473 733.3,490 L733.3,512 C733.3,528 726,534.8 716.5,534.8 C707,534.8 700.4,528 700.4,512 Z" fill="#000"/><path d="M718,474.6 C718.4,475.1 720.4,476.9 720.3,477.6 C720.2,478.4 717.8,478.9 717.2,479.2" fill="none" stroke="#fff" stroke-width="2.0" stroke-linecap="round"/><path d="M719.5,481.5 C720.3,481.9 723.8,483.1 724.1,483.8 C724.5,484.4 721.6,484.5 721.8,485.3 C722.1,486.1 725.3,487.2 725.7,488.4 C726.1,489.5 723.9,491.3 724.1,492.2 C724.4,493.1 726.4,492.7 727.2,493.7 C728,494.8 728.4,497.1 728.7,498.3 C729.1,499.6 729.1,500.9 729.1,501.4" fill="none" stroke="#fff" stroke-width="2.2" stroke-linecap="round"/><path d="M721.1,495.3 L722.6,496.8" fill="none" stroke="#fff" stroke-width="1.2" stroke-linecap="round"/><path d="M720.3,517.1 C720.9,516 723,512.5 724.1,510.6 C725.3,508.8 726.7,506.8 727.2,506" fill="none" stroke="#fff" stroke-width="1.3" stroke-linecap="round"/><path d="M724.9,515.2 L728,507.5" fill="none" stroke="#fff" stroke-width="1.6" stroke-linecap="round"/><path d="M728.7,520.6 C729,519.4 730.1,515.9 730.3,513.7 C730.5,511.5 730,508.6 729.9,507.5" fill="none" stroke="#fff" stroke-width="2.4" stroke-linecap="round"/><path d="M668,484 L700.5,487.5" fill="none" stroke="#000" stroke-width="1.4" stroke-linejoin="round" stroke-linecap="round"/><polygon points="605.4,578.7 618.9,565.2 628.5,558.5 638.1,557 647.7,559.4 653.5,566.2 655.4,573.9 655.4,588.3 654.5,598.9 649.7,604.7 642.9,610.4 635.2,618.1 632.3,620 632.3,581.1" fill="#fff"/><g clip-path="url(#c31)" fill="none" stroke="#000" stroke-width="1.5"><path d="M621.8,569.1 L633.3,561.4"/><path d="M626.6,576.8 L640,565.2"/><path d="M636.2,578.7 L647.7,569.1"/><path d="M640,580.6 L649.7,572.9"/><path d="M638.1,593.1 L652.6,583.5"/><path d="M638.1,598.9 L651.6,590.2"/><path d="M635.2,604.7 L649.7,596"/><path d="M635.2,610.4 L643.9,604.7"/><path d="M637.2,614.3 L643.9,611.4"/><path d="M614.1,576.8 L621.8,571"/><path d="M630.4,564.2 L640,559.4"/></g><path d="M605.4,578.7 C607.6,576.5 615,568.6 618.9,565.2 C622.8,561.8 625.3,559.9 628.5,558.5 C631.7,557.1 634.9,556.9 638.1,557 C641.3,557.1 645.1,557.9 647.7,559.4 C650.3,560.9 652.2,563.8 653.5,566.2 C654.8,568.6 655.1,570.2 655.4,573.9 C655.7,577.6 655.5,584.1 655.4,588.3 C655.2,592.5 655.5,596.2 654.5,598.9 C653.5,601.6 651.6,602.8 649.7,604.7 C647.8,606.6 645.3,608.2 642.9,610.4 C640.5,612.6 636.5,616.8 635.2,618.1" fill="none" stroke="#000" stroke-width="2.8" stroke-linejoin="round" stroke-linecap="round"/><polygon points="545,663.8 631.2,581.2 632.5,670 545,753.8" fill="#fff"/><g clip-path="url(#c32)" fill="none" stroke="#000" stroke-width="1.3"><path d="M547.6,675.2 C552.6,671.9 568.5,661.4 577.6,655.2 C586.8,648.9 593.7,643.5 602.7,637.6 C611.6,631.8 626.7,623 631.5,620.1"/><path d="M547.6,690.2 C553.9,686.5 573.9,675.2 585.2,667.7 C596.4,660.2 607.5,651 615.2,645.2 C622.9,639.3 628.7,634.7 631.5,632.6"/><path d="M547.6,707.7 C554.7,703.1 576.2,689.8 590.2,680.2 C604.1,670.6 624.6,655.2 631.5,650.2"/><path d="M547.6,725.3 C552.6,722.3 568.5,714 577.6,707.7 C586.8,701.5 593.7,694.8 602.7,687.7 C611.6,680.6 626.7,668.9 631.5,665.2"/><path d="M550.1,740.3 C556.8,736.1 576.6,724.4 590.2,715.2 C603.7,706.1 624.6,690.2 631.5,685.2"/><path d="M565.1,745.3 C571.4,740.7 591.6,725.7 602.7,717.7 C613.7,709.8 626.7,701.1 631.5,697.7"/><path d="M585.2,685.2 C587.2,684.4 594.3,681.9 597.7,680.2 C601,678.5 605.6,676.9 605.2,675.2 C604.8,673.5 596.8,671 595.2,670.2"/><path d="M547.6,665.2 C552.6,661.4 568,650.2 577.6,642.6 C587.2,635.1 596.2,627.6 605.2,620.1 C614.1,612.6 627.1,601.3 631.5,597.6"/><path d="M577.6,630.1 C582.2,626.4 596.2,614.7 605.2,607.6 C614.1,600.5 627.1,590.9 631.5,587.6"/></g><polygon points="480,662.5 567.5,580 631.2,581.2 545,663.8" fill="#fff"/><g clip-path="url(#c33)" fill="none" stroke="#000" stroke-width="1.3"><path d="M490,660.2 C496.3,654.3 515.9,635.1 527.6,625.1 C539.3,615.1 549.7,606.8 560.1,600.1 C570.5,593.4 581,588.2 590.2,585.1 C599.3,581.9 611,581.9 615.2,581.3"/><path d="M512.6,657.7 C517.1,653.9 530.5,642.6 540.1,635.1 C549.7,627.6 559.3,619.3 570.1,612.6 C581,605.9 595.6,599.7 605.2,595.1 C614.8,590.5 623.9,586.7 627.7,585.1"/><path d="M527.6,661.4 C533,657 549.7,643.3 560.1,635.1 C570.5,627 581,618.9 590.2,612.6 C599.3,606.4 608.1,602.2 615.2,597.6 C622.3,593 629.8,587.2 632.7,585.1"/><path d="M515.1,655.2 C517.6,653.1 524.7,646 530.1,642.6 C535.5,639.3 542.6,638.1 547.6,635.1 C552.6,632.2 557.6,629.7 560.1,625.1 C562.6,620.5 561.8,611.8 562.6,607.6 C563.5,603.4 564.7,601.3 565.1,600.1"/><path d="M562.6,605.1 C562.2,603.4 558.9,598 560.1,595.1 C561.4,592.2 565.1,590.1 570.1,587.6 C575.1,585.1 586.8,581.3 590.2,580.1"/><path d="M502.5,655.2 C508,649.3 525.5,629.7 535.1,620.1 C544.7,610.5 555.9,601.3 560.1,597.6"/></g><polygon points="480,663 544.4,665 544.4,754.6 476.5,752.6" fill="#fff"/><g clip-path="url(#c34)" fill="none" stroke="#000" stroke-width="1.3"><path d="M489.6,646.7 C489.8,647.1 490.2,648 490.5,648.6 C490.8,649.2 491.1,649.9 491.3,650.5 C491.5,651.2 491.8,651.8 492,652.5 C492.2,653.1 492.3,653.8 492.5,654.4 C492.7,655.1 492.8,655.8 492.9,656.5 C493.1,657.1 493.2,657.8 493.2,658.5 C493.3,659.1 493.4,659.8 493.4,660.5 C493.5,661.2 493.5,661.8 493.5,662.5 C493.5,663.2 493.5,663.9 493.5,664.5 C493.5,665.2 493.5,665.9 493.4,666.5 C493.3,667.2 493.3,667.9 493.2,668.5 C493.1,669.2 493,669.9 492.9,670.5 C492.8,671.2 492.6,671.8 492.5,672.5 C492.3,673.1 492.2,673.8 492,674.4 C491.8,675.1 491.6,675.7 491.4,676.3 C491.2,677 491,677.6 490.8,678.2 C490.5,678.9 490.3,679.5 490,680.1 C489.7,680.7 489.4,681.3 489.2,681.9 C488.9,682.5 488.5,683.1 488.2,683.7 C487.9,684.3 487.5,684.9 487.2,685.4 C486.8,686 486.5,686.6 486.1,687.1 C485.7,687.7 485.3,688.2 484.9,688.8 C484.4,689.3 484,689.8 483.6,690.3 C483.1,690.8 482.6,691.3 482.2,691.8 C481.7,692.3 481.2,692.8 480.7,693.2 C480.2,693.7 479.6,694.2 479.1,694.6 C478.6,695 478,695.4 477.4,695.8 C476.9,696.2 476.3,696.6 475.7,696.9 C475.1,697.3 474.5,697.6 473.9,698 C473.3,698.3 472.7,698.6 472,698.9 C471.4,699.2 470.8,699.4 470.1,699.6 C469.4,699.9 468.8,700.1 468.1,700.3 C467.5,700.5 466.8,700.7 466.1,700.8 C465.4,701 464.7,701.1 464.1,701.2 C463.4,701.3 462.7,701.4 462,701.4 C461.3,701.5 460.6,701.5 459.9,701.5 C459.2,701.6 458.5,701.5 457.8,701.5 C457.2,701.5 456.5,701.4 455.8,701.3 C455.1,701.3 454.4,701.2 453.7,701.1 C453.1,700.9 452.1,700.7 451.7,700.6"/><path d="M506.5,637 C506.8,637.5 507.5,638.9 507.9,639.9 C508.3,640.8 508.7,641.8 509.1,642.8 C509.4,643.8 509.8,644.8 510.1,645.8 C510.4,646.8 510.7,647.8 510.9,648.8 C511.2,649.8 511.4,650.9 511.6,651.9 C511.8,652.9 512,653.9 512.2,655 C512.3,656 512.4,657 512.5,658.1 C512.6,659.1 512.7,660.1 512.8,661.2 C512.8,662.2 512.9,663.2 512.9,664.3 C512.9,665.3 512.9,666.4 512.8,667.4 C512.8,668.4 512.7,669.5 512.6,670.5 C512.5,671.5 512.4,672.6 512.3,673.6 C512.2,674.6 512,675.7 511.8,676.7 C511.6,677.7 511.4,678.7 511.2,679.7 C510.9,680.8 510.7,681.8 510.4,682.8 C510.1,683.8 509.8,684.8 509.4,685.8 C509.1,686.8 508.7,687.8 508.3,688.7 C508,689.7 507.5,690.7 507.1,691.7 C506.6,692.6 506.2,693.6 505.7,694.5 C505.2,695.4 504.6,696.3 504.1,697.3 C503.5,698.2 502.9,699.1 502.3,699.9 C501.7,700.8 501,701.7 500.4,702.5 C499.7,703.3 499,704.1 498.3,704.9 C497.6,705.7 496.8,706.5 496.1,707.3 C495.3,708 494.5,708.7 493.7,709.4 C492.8,710.1 492,710.8 491.1,711.4 C490.3,712.1 489.4,712.7 488.5,713.3 C487.6,713.9 486.6,714.4 485.7,715 C484.7,715.5 483.8,716 482.8,716.4 C481.8,716.9 480.8,717.3 479.8,717.7 C478.8,718.1 477.8,718.5 476.8,718.8 C475.8,719.1 474.7,719.4 473.7,719.7 C472.6,719.9 471.6,720.2 470.5,720.3 C469.5,720.5 468.4,720.7 467.3,720.8 C466.3,720.9 465.2,721 464.1,721.1 C463.1,721.1 462,721.2 460.9,721.2 C459.9,721.2 458.8,721.1 457.8,721 C456.7,721 455.6,720.9 454.6,720.8 C453.5,720.6 452.5,720.5 451.5,720.3 C450.4,720.1 448.9,719.8 448.4,719.7"/><path d="M514.8,632.2 C515.1,632.7 515.9,634.4 516.4,635.6 C516.9,636.7 517.4,637.8 517.8,639 C518.3,640.1 518.7,641.3 519,642.5 C519.4,643.7 519.8,644.8 520.1,646 C520.4,647.2 520.7,648.4 520.9,649.6 C521.2,650.8 521.4,652 521.6,653.2 C521.8,654.4 522,655.6 522.2,656.8 C522.3,658.1 522.4,659.3 522.5,660.5 C522.6,661.7 522.7,662.9 522.7,664.2 C522.7,665.4 522.8,666.6 522.7,667.8 C522.7,669.1 522.7,670.3 522.6,671.5 C522.5,672.7 522.4,674 522.2,675.2 C522.1,676.4 521.9,677.6 521.7,678.8 C521.5,680.1 521.3,681.3 521,682.5 C520.7,683.7 520.5,684.9 520.1,686.1 C519.8,687.3 519.4,688.5 519,689.7 C518.6,690.8 518.2,692 517.7,693.2 C517.3,694.3 516.8,695.5 516.2,696.6 C515.7,697.8 515.1,698.9 514.5,700 C513.9,701.1 513.3,702.2 512.6,703.2 C512,704.3 511.2,705.4 510.5,706.4 C509.8,707.4 509,708.4 508.2,709.4 C507.4,710.4 506.6,711.3 505.7,712.3 C504.8,713.2 503.9,714.1 503,715 C502.1,715.8 501.1,716.7 500.1,717.5 C499.1,718.3 498.1,719.1 497.1,719.8 C496.1,720.5 495,721.3 493.9,721.9 C492.8,722.6 491.7,723.2 490.6,723.8 C489.5,724.4 488.3,725 487.2,725.5 C486,726 484.8,726.5 483.7,726.9 C482.5,727.4 481.3,727.8 480,728.1 C478.8,728.5 477.6,728.8 476.4,729.1 C475.2,729.4 473.9,729.6 472.7,729.9 C471.4,730.1 470.2,730.2 468.9,730.4 C467.7,730.5 466.4,730.6 465.2,730.7 C463.9,730.7 462.7,730.8 461.4,730.7 C460.2,730.7 459,730.7 457.7,730.6 C456.5,730.5 455.2,730.4 454,730.3 C452.8,730.1 451.6,730 450.3,729.8 C449.1,729.6 447.3,729.2 446.7,729.1"/><path d="M525.1,626.2 C525.5,626.9 526.5,628.8 527.2,630.1 C527.8,631.5 528.4,632.8 529,634.1 C529.6,635.5 530.1,636.8 530.7,638.2 C531.2,639.6 531.7,640.9 532.1,642.3 C532.6,643.7 533,645.1 533.4,646.6 C533.8,648 534.1,649.4 534.4,650.8 C534.8,652.3 535.1,653.7 535.3,655.2 C535.6,656.6 535.8,658.1 536,659.5 C536.1,661 536.3,662.5 536.4,664 C536.5,665.5 536.5,666.9 536.6,668.4 C536.6,669.9 536.6,671.4 536.5,672.9 C536.4,674.4 536.3,675.9 536.2,677.4 C536,678.9 535.9,680.4 535.6,681.9 C535.4,683.3 535.1,684.8 534.8,686.3 C534.5,687.8 534.1,689.2 533.7,690.7 C533.3,692.1 532.8,693.6 532.3,695 C531.8,696.4 531.2,697.9 530.6,699.3 C530,700.6 529.4,702 528.7,703.4 C528,704.7 527.3,706.1 526.5,707.4 C525.7,708.7 524.9,710 524,711.2 C523.1,712.5 522.2,713.7 521.3,714.9 C520.3,716.1 519.3,717.2 518.3,718.4 C517.3,719.5 516.2,720.6 515.1,721.6 C514,722.7 512.9,723.7 511.7,724.7 C510.6,725.7 509.4,726.6 508.2,727.5 C507,728.4 505.7,729.3 504.4,730.1 C503.2,730.9 501.9,731.7 500.5,732.4 C499.2,733.2 497.9,733.9 496.5,734.5 C495.2,735.2 493.8,735.8 492.4,736.4 C491,736.9 489.6,737.5 488.2,737.9 C486.8,738.4 485.4,738.9 483.9,739.3 C482.5,739.7 481.1,740.1 479.6,740.4 C478.2,740.7 476.7,741 475.3,741.3 C473.8,741.5 472.3,741.7 470.9,741.9 C469.4,742.1 467.9,742.2 466.5,742.3 C465,742.4 463.5,742.5 462.1,742.5 C460.6,742.6 459.1,742.6 457.7,742.5 C456.2,742.5 454.7,742.4 453.3,742.3 C451.8,742.2 450.4,742.1 448.9,741.9 C447.4,741.7 445.3,741.4 444.6,741.3"/><path d="M536,619.9 C536.4,620.7 537.5,623 538.2,624.6 C538.9,626.1 539.5,627.7 540.1,629.3 C540.7,630.9 541.2,632.5 541.7,634.1 C542.2,635.7 542.7,637.4 543.1,639 C543.5,640.6 543.9,642.3 544.2,643.9 C544.5,645.6 544.8,647.2 545,648.9 C545.3,650.5 545.5,652.2 545.7,653.8 C545.8,655.5 546,657.2 546.1,658.8 C546.1,660.5 546.2,662.2 546.2,663.8 C546.2,665.5 546.2,667.2 546.1,668.8 C546.1,670.5 545.9,672.2 545.8,673.8 C545.7,675.5 545.5,677.2 545.3,678.8 C545,680.5 544.8,682.1 544.5,683.8 C544.2,685.4 543.8,687.1 543.5,688.7 C543.1,690.3 542.6,692 542.2,693.6 C541.7,695.2 541.2,696.8 540.7,698.4 C540.1,700 539.5,701.6 538.9,703.2 C538.3,704.7 537.6,706.3 536.9,707.8 C536.1,709.4 535.4,710.9 534.6,712.4 C533.8,713.9 532.9,715.4 532,716.8 C531.1,718.3 530.2,719.7 529.2,721.1 C528.2,722.5 527.2,723.9 526.1,725.2 C525,726.6 523.9,727.9 522.7,729.2 C521.6,730.5 520.4,731.7 519.1,732.9 C517.9,734.1 516.6,735.3 515.3,736.4 C514,737.5 512.6,738.6 511.2,739.6 C509.9,740.7 508.4,741.7 507,742.6 C505.5,743.6 504,744.4 502.5,745.3 C501,746.1 499.4,746.9 497.9,747.7 C496.3,748.4 494.7,749.1 493.1,749.7 C491.5,750.4 489.8,750.9 488.2,751.5 C486.5,752 484.9,752.5 483.2,752.9 C481.5,753.3 479.8,753.6 478.1,754 C476.4,754.3 474.7,754.5 473,754.7 C471.3,754.9 469.6,755.1 467.9,755.2 C466.2,755.2 464.4,755.3 462.7,755.3 C461,755.3 459.3,755.2 457.6,755.1 C455.9,755 454.2,754.8 452.5,754.6 C450.8,754.4 449.1,754.2 447.5,753.9 C445.8,753.6 443.3,753 442.5,752.8"/><path d="M548.2,612.9 C548.6,613.8 550,616.4 550.9,618.2 C551.7,620 552.5,621.8 553.3,623.6 C554.1,625.4 554.8,627.2 555.5,629 C556.1,630.9 556.8,632.7 557.4,634.6 C558,636.5 558.5,638.4 559,640.3 C559.5,642.2 560,644.1 560.4,646 C560.8,647.9 561.2,649.9 561.5,651.8 C561.9,653.8 562.1,655.7 562.4,657.7 C562.6,659.7 562.8,661.6 562.9,663.6 C563,665.6 563.1,667.6 563.2,669.6 C563.2,671.6 563.2,673.6 563.1,675.6 C563,677.6 562.8,679.6 562.7,681.6 C562.5,683.6 562.2,685.6 561.9,687.6 C561.6,689.5 561.2,691.5 560.8,693.5 C560.4,695.5 559.9,697.4 559.3,699.4 C558.8,701.3 558.2,703.3 557.5,705.2 C556.8,707.1 556.1,709 555.3,710.9 C554.5,712.8 553.6,714.6 552.7,716.4 C551.8,718.3 550.8,720 549.8,721.8 C548.8,723.6 547.7,725.3 546.5,727 C545.4,728.7 544.2,730.3 542.9,731.9 C541.6,733.5 540.3,735.1 539,736.6 C537.6,738.2 536.2,739.6 534.7,741.1 C533.3,742.5 531.8,743.9 530.2,745.2 C528.7,746.5 527.1,747.8 525.4,749 C523.8,750.2 522.1,751.4 520.4,752.5 C518.7,753.6 517,754.7 515.2,755.7 C513.4,756.7 511.6,757.6 509.8,758.5 C508,759.4 506.2,760.2 504.3,761 C502.4,761.8 500.5,762.5 498.6,763.1 C496.7,763.8 494.8,764.4 492.9,764.9 C491,765.5 489,766 487.1,766.4 C485.1,766.8 483.2,767.2 481.2,767.6 C479.2,767.9 477.3,768.2 475.3,768.4 C473.3,768.6 471.4,768.8 469.4,768.9 C467.4,769.1 465.4,769.1 463.5,769.2 C461.5,769.2 459.5,769.2 457.5,769.1 C455.6,769.1 453.6,768.9 451.7,768.8 C449.7,768.6 447.7,768.4 445.8,768.2 C443.8,767.9 440.9,767.4 440,767.3"/><path d="M477.1,670.9 C479.2,671.9 485.6,674.5 489.7,676.5 C493.8,678.6 497.6,681.6 501.8,683.4 C506,685.2 510.4,686.6 515,687.4 C519.6,688.2 524.7,687.5 529.3,688.2 C533.9,688.9 538.6,689.5 542.7,691.6 C546.8,693.8 550.2,698 553.9,701.1 C557.7,704.2 560.9,708.4 565.1,710.2 C569.4,711.9 577,711.2 579.4,711.4"/><path d="M475.1,675.4 C476.9,676.9 482.3,681.1 485.8,684.1 C489.3,687.1 492.3,690.8 496,693.5 C499.7,696.2 503.9,698.3 508.2,700.1 C512.5,702 517.6,702.5 521.8,704.4 C526,706.3 530.1,708.4 533.5,711.7 C536.8,715 538.9,720.1 541.9,723.9 C544.8,727.8 547.1,732.3 551,734.7 C554.9,737.1 562.9,737.8 565.2,738.5"/><path d="M470.8,680.4 C472.5,682 477.7,686.5 480.9,689.8 C484,693.2 487.1,696.6 489.6,700.5 C492.1,704.3 493.6,709.1 495.9,713.1 C498.2,717.1 500.2,721.4 503.5,724.6 C506.8,727.9 511.4,730 515.5,732.6 C519.5,735.2 524.5,736.9 527.7,740.2 C530.9,743.5 532.9,747.9 534.5,752.5 C536.2,757.1 537.1,765.2 537.7,767.7"/><path d="M465.9,683.4 C467,685.4 470,691.6 472.5,695.5 C475,699.4 478.3,702.8 480.7,706.7 C483.1,710.7 485.3,714.7 486.7,719.1 C488.1,723.5 488,728.7 489.1,733.3 C490.1,737.8 490.7,742.6 493,746.5 C495.4,750.5 499.5,753.7 503,757.1 C506.5,760.5 511.5,763 514,766.9 C516.4,770.8 517.2,778.1 517.9,780.4"/></g><path d="M480,663 L544.4,665 L544.4,754.6 L476.5,752.6 L480,663 L567.5,580 L632.3,581.1 L544.4,665" fill="none" stroke="#000" stroke-width="2.8" stroke-linejoin="round" stroke-linecap="round"/><path d="M632.3,581.1 L632.5,670 L544.4,754.6" fill="none" stroke="#000" stroke-width="2.8" stroke-linejoin="round" stroke-linecap="round"/><path d="M602.1,555.7 L608.7,561.7 L615.9,568.9" fill="none" stroke="#000" stroke-width="1.5" stroke-linejoin="round" stroke-linecap="round"/><path d="M601.5,537.3 C601.1,536.7 600,534.4 599.1,533.4 C598.2,532.5 597.2,531.6 596.1,531.6 C595,531.6 593.5,532.4 592.4,533.4 C591.4,534.4 590.6,536 590,537.6 C589.4,539.2 589,541.3 588.8,543.1 C588.6,544.8 588.4,546.6 588.8,547.9 C589.2,549.2 590.2,550.3 591.2,550.9 C592.2,551.5 593.8,551.7 594.9,551.5 C596,551.3 597.1,550.7 597.9,549.7 C598.7,548.7 599.6,547 599.7,545.5 C599.8,544 599.3,541.7 598.5,540.6 C597.7,539.6 596.2,539.3 594.9,539.1 C593.6,538.9 591.5,539.1 590.6,539.4 C589.7,539.8 589.6,540.9 589.4,541.2" fill="none" stroke="#000" stroke-width="2.0" stroke-linejoin="round" stroke-linecap="round"/><polygon points="215.8,876.9 264.7,878.6 219.3,925.7 167,929.2" fill="#fff"/><g clip-path="url(#c35)" fill="none" stroke="#000" stroke-width="1.3"><path d="M203.6,892.6 C205.9,892.9 212.9,894.7 217.6,894.7 C222.2,894.7 228.9,893.8 231.5,892.6 C234.2,891.4 234.2,888.5 233.3,887.3 C232.4,886.2 229.8,885.6 226.3,885.6 C222.8,885.6 216.4,886.5 212.3,887.3 C208.3,888.2 206.2,888.5 201.9,890.8 C197.5,893.2 188.8,899.6 186.2,901.3"/><path d="M180.9,918.8 C184.7,917.6 196.9,914.1 203.6,911.8 C210.3,909.4 215.3,908 221.1,904.8 C226.9,901.6 232.4,896.1 238.5,892.6 C244.6,889.1 254.5,885.3 257.7,883.9"/><path d="M194.9,906.5 C197.8,905.7 207.1,902.8 212.3,901.3 C217.6,899.9 221.9,898.7 226.3,897.8 C230.7,896.9 236.5,896.4 238.5,896.1"/><path d="M174,925.7 C177.4,924.6 187,921.1 194.9,918.8 C202.7,916.4 212.9,915.3 221.1,911.8 C229.2,908.3 237.4,902.2 243.8,897.8 C250.2,893.5 256.8,887.6 259.5,885.6"/><path d="M212.3,883.9 C215.3,883.6 224,882.4 229.8,882.1 C235.6,881.8 242.6,882.3 247.2,882.1 C251.9,882 256,881.4 257.7,881.2"/></g><polygon points="264.7,878.6 266.4,897.8 221.1,939.7 219.3,925.7" fill="#fff"/><g clip-path="url(#c36)" fill="none" stroke="#000" stroke-width="1.4"><path d="M226.3,929.2 L229.8,924.9"/><path d="M235,922.2 L240.3,917"/><path d="M243.8,917 L252.5,910"/><path d="M247.2,911.8 L257.7,901.3"/><path d="M257.7,904.8 L262.9,892.6"/></g><polygon points="167,929.2 219.3,926.6 221.1,939.7 167,939.7" fill="#fff"/><g clip-path="url(#c37)" fill="none" stroke="#000" stroke-width="1.3"><path d="M160,932.7 C164.4,932.9 177.4,932.7 186.2,933.6 C194.9,934.5 208,937.2 212.3,937.9"/><path d="M160,935.3 C164.4,935.2 177.4,934 186.2,934.5 C194.9,934.9 208,937.4 212.3,937.9"/></g><polygon points="85.5,865.2 178,863.6 214.1,862.9 165.2,913 54.3,914.4 57.4,906.6 60.5,897.2 62.1,892.5 68.3,886.3 76.9,878.5 79.3,872.2" fill="#fff"/><g clip-path="url(#c38)" fill="none" stroke="#000" stroke-width="1.4"><path d="M87.1,867.5 C91,867.4 104.1,866.7 110.6,866.7 C117.1,866.7 122.1,867.6 126.2,867.5 C130.4,867.4 134,866.2 135.6,866"/><path d="M84,873 C88.4,872.9 100.9,872.1 110.6,872.2 C120.2,872.3 130.6,873.6 141.9,873.8 C153.1,873.9 170.2,873.3 178,873 C185.8,872.7 187,872.3 188.8,872.2"/><path d="M79.3,878.5 C81.9,878.9 88.7,880.2 94.9,880.8 C101.2,881.5 112.1,881.5 116.8,882.4 C121.5,883.3 122.6,884.9 123.1,886.3 C123.6,887.7 123.4,889.7 120,891 C116.6,892.3 108,893.1 102.8,894.1 C97.5,895.2 93.1,895.9 88.7,897.2 C84.2,898.5 79.8,900.6 76.2,901.9 C72.5,903.2 68.3,904.5 66.8,905.1"/><path d="M62.9,893.3 C66.4,893 83.6,890.8 84,891.3 C84.4,891.8 68.3,895.6 65.2,896.5"/><path d="M123.1,886.3 C126.2,886.2 136.1,885.8 141.9,885.5 C147.6,885.2 154.1,884.6 157.5,884.7 C160.9,884.9 162.2,885.2 162.2,886.3 C162.2,887.3 160.9,889.7 157.5,891 C154.1,892.3 147.1,893.2 141.9,894.1 C136.7,895 131.4,895.4 126.2,896.5 C121,897.5 115.8,898.9 110.6,900.4 C105.4,901.8 100.1,903.6 94.9,905.1 C89.7,906.5 84.5,908.1 79.3,909 C74.1,909.9 67.3,910.1 63.6,910.5 C60,910.9 58.4,911.2 57.4,911.3"/><path d="M57.4,912.9 C63.6,912.2 83.5,910.4 94.9,909 C106.4,907.5 117.1,905.5 126.2,904.3 C135.3,903.1 143.2,902.7 149.7,901.9 C156.2,901.2 160.6,901.2 165.3,899.6 C170.1,898 174.1,894.8 178,892.5 C181.9,890.3 187,887.3 188.8,886.3"/><path d="M94.9,911 C99.6,910.6 115.3,908.9 123.1,908.7 C130.9,908.4 138.7,909.3 141.9,909.4"/><path d="M163.8,901.9 C165.3,900.6 169,897 173.2,894.1 C177.3,891.2 186.2,886.3 188.8,884.7"/><path d="M160,869.9 C161.5,869.6 164.4,868.2 168.7,868.2 C173.1,868.2 181.8,868.7 186.2,869.9 C190.5,871.1 194.9,873.4 194.9,875.1 C194.9,876.9 190.2,879.2 186.2,880.4 C182.1,881.5 174.8,880.9 170.5,882.1 C166.1,883.3 161.7,886.5 160,887.3"/><path d="M160,892.6 C162.9,891.7 171.6,889.4 177.4,887.3 C183.3,885.3 190.2,882.4 194.9,880.4 C199.6,878.3 203.6,876 205.4,875.1"/><path d="M160,904.8 C163.5,902.8 173.7,897.2 180.9,892.6 C188.2,887.9 199.8,879.5 203.6,876.9"/></g><polygon points="214.1,862.9 215.8,876.9 167,931 165.2,913" fill="#fff"/><g clip-path="url(#c39)" fill="none" stroke="#000" stroke-width="1.3"><path d="M170.5,917 C173.1,914.4 180.9,906.5 186.2,901.3 C191.4,896.1 197.5,890.3 201.9,885.6 C206.2,880.9 210.6,875.4 212.3,873.4"/><path d="M175.7,920.5 C178.3,917.9 185.9,910.6 191.4,904.8 C196.9,899 205.9,888.8 208.9,885.6"/></g><polygon points="54.3,914.4 165.2,913 167,929.2 167,945 166.9,959.8 54.3,963 55,942.6 55.8,925.4" fill="#fff"/><g clip-path="url(#c40)" fill="none" stroke="#000" stroke-width="1.4"><path d="M57.4,917.6 C63.6,917.6 83.5,917.1 94.9,917.6 C106.4,918.1 115.8,919.4 126.2,920.7 C136.7,922 150.7,924.1 157.5,925.4 C164.3,926.7 165.3,928 166.9,928.5"/><path d="M57.4,928.5 C63.6,928.5 84.8,928 94.9,928.5 C105.1,929.1 110.6,930.6 118.4,931.7 C126.2,932.7 137.4,934.1 141.9,934.8 C146.3,935.5 146,935.5 145,936 C144,936.6 141.3,937.3 135.6,937.9 C129.9,938.5 118.7,938.7 110.6,939.5 C102.5,940.3 96,941 87.1,942.6 C78.2,944.2 62.3,947.8 57.4,948.9"/><path d="M57.4,937.6 C60.8,937.7 77.7,937.6 77.7,938.2 C77.7,938.9 60.8,940.8 57.4,941.4"/><path d="M57.4,955.1 C62.3,954.3 76.9,952 87.1,950.4 C97.3,948.9 109.3,947 118.4,945.7 C127.5,944.4 135.3,943.5 141.9,942.6 C148.4,941.7 151.5,941.3 157.5,940.3 C163.5,939.2 174.6,937 178,936.4"/><path d="M57.4,961.4 C63.6,960.9 83.5,959 94.9,958.3 C106.4,957.5 115.8,957.2 126.2,956.7 C136.7,956.2 152.3,955.4 157.5,955.1"/><path d="M126.2,925.4 C130.1,926.2 141.1,928.8 149.7,930.1 C158.3,931.4 173.3,932.7 178,933.2"/></g><path d="M85.5,865.2 L178,863.6 L214.1,862.9 L165.2,913 L54.3,914.4 L57.4,906.6 L60.5,897.2 L62.1,892.5 L68.3,886.3 L76.9,878.5 L79.3,872.2 L85.5,865.2" fill="none" stroke="#000" stroke-width="2.8" stroke-linejoin="round" stroke-linecap="round"/><path d="M54.3,914.4 L55.8,925.4 L55,942.6 L54.3,963 L166.9,959.8" fill="none" stroke="#000" stroke-width="2.8" stroke-linejoin="round" stroke-linecap="round"/><path d="M165.2,913 L167,931 L215.8,876.9 L214.1,862.9" fill="none" stroke="#000" stroke-width="2.6" stroke-linejoin="round" stroke-linecap="round"/><path d="M215.8,876.9 L264.7,878.6 L266.4,897.8 L221.1,939.7 L219.3,925.7 L264.7,878.6" fill="none" stroke="#000" stroke-width="2.6" stroke-linejoin="round" stroke-linecap="round"/><path d="M167,929.2 L219.3,926.6" fill="none" stroke="#000" stroke-width="2.2" stroke-linejoin="round" stroke-linecap="round"/><path d="M167,939.7 L221.1,939.7" fill="none" stroke="#000" stroke-width="2.6" stroke-linejoin="round" stroke-linecap="round"/><path d="M166,946.7 L181,945 L166,960.6" fill="none" stroke="#000" stroke-width="2.4" stroke-linejoin="round" stroke-linecap="round"/><path d="M166,929 L166.9,960" fill="none" stroke="#000" stroke-width="2.4" stroke-linejoin="round" stroke-linecap="round"/><path d="M233.3,859.4 L217.6,874.3" fill="none" stroke="#000" stroke-width="1.4" stroke-linejoin="round" stroke-linecap="round"/><path d="M268.2,866.4 L257.7,878.6" fill="none" stroke="#000" stroke-width="1.4" stroke-linejoin="round" stroke-linecap="round"/><path d="M256,910 L272.5,909.2" fill="none" stroke="#000" stroke-width="1.4" stroke-linejoin="round" stroke-linecap="round"/><path d="M49,942.5 L56,942" fill="none" stroke="#000" stroke-width="1.6" stroke-linejoin="round" stroke-linecap="round"/><polygon points="474,893 521,893 522.2,935 475.3,935" fill="#fff"/><g clip-path="url(#c41)" fill="none" stroke="#000" stroke-width="1.4"><path d="M477.7,896.6 C481.1,897 492.7,898.2 498.1,899 C503.5,899.8 506.4,900.8 510.2,901.4 C514,902 519.2,902.4 521,902.6"/><path d="M476.5,905 C480.1,905.4 491.3,906 498.1,907.4 C505,908.8 517,911 517.4,913.4 C517.8,915.8 506.8,919.6 500.5,921.8 C494.3,924 484.3,925.6 480.1,926.6 C475.9,927.6 476.1,927.6 475.3,927.8"/><path d="M477.7,912.2 C480.1,911.9 488.3,910 492.1,910.4 C495.9,910.8 501.5,913.1 500.5,914.6 C499.5,916.1 489.9,918.4 486.1,919.4 C482.3,920.4 479.1,920.4 477.7,920.6"/><path d="M476.5,931.5 C480.1,931.1 490.7,930.3 498.1,929 C505.6,927.8 517.2,925 521,924.2"/></g><polygon points="484.9,882.1 535.4,881.5 521,893 474,893" fill="#fff"/><g clip-path="url(#c42)" fill="none" stroke="#000" stroke-width="1.3"><path d="M486.1,888.1 C489.1,887.8 498.1,886.4 504.2,886.3 C510.2,886.2 519.2,887.3 522.2,887.5"/><path d="M517.4,890.5 C518.6,889.7 522,886.7 524.6,885.7 C527.2,884.7 531.6,884.7 533,884.5"/></g><polygon points="521,893 535.4,881.5 537.8,921.8 522.2,935" fill="#fff"/><g clip-path="url(#c43)" fill="none" stroke="#000" stroke-width="1.4"><path d="M527,894.2 C526.6,896.4 524.6,902.4 524.6,907.4 C524.6,912.4 526.6,921.4 527,924.2"/><path d="M531.8,890.5 C532,893.1 533.2,900.8 533,906.2 C532.8,911.6 531,920.2 530.6,923"/><path d="M523.4,897.8 L524,917"/></g><polygon points="459.6,899 500.5,853.2 503,879.7 484.9,882.1 474,893 475.3,936.3 459.6,952" fill="#fff"/><g clip-path="url(#c44)" fill="none" stroke="#000" stroke-width="1.4"><path d="M459.6,907.4 C460.4,906.2 462,902.6 464.4,900.2 C466.8,897.8 470.5,896.4 474.1,892.9 C477.7,889.5 482.1,884.9 486.1,879.7 C490.1,874.5 496.1,864.7 498.1,861.7"/><path d="M462,930.3 C462.4,928.8 463.2,924.4 464.4,921.8 C465.6,919.2 467.6,917 469.3,914.6 C470.9,912.2 473.3,908.6 474.1,907.4"/><path d="M460.8,945.9 C461.2,944.3 462,939.5 463.2,936.3 C464.4,933.1 466.2,929.5 468.1,926.6 C469.9,923.8 473.1,920.6 474.1,919.4"/><path d="M480.1,882.1 C482.1,880.3 488.7,874.3 492.1,871.3 C495.5,868.3 499.1,865.3 500.5,864.1"/></g><polygon points="376.8,855.1 465,853 500.5,853.2 459.6,899 350.8,902.8 358,892.7 363.8,884 369.5,873.9 373.9,865.2" fill="#fff"/><g clip-path="url(#c45)" fill="none" stroke="#000" stroke-width="1.4"><path d="M379.7,859.4 C383.5,859.3 394.1,858.8 402.8,858.7 C411.4,858.7 421.3,859.3 431.6,859.2 C442,859 456.3,858 465,857.7 C473.7,857.4 480.5,857.3 483.6,857.3"/><path d="M372.4,870.3 C376.3,870.2 388.1,869.8 395.5,869.5 C403,869.3 410.7,868.5 417.2,868.8 C423.7,869.1 432.1,870.4 434.5,871.3 C436.9,872.2 435.7,873.4 431.6,874.2 C427.6,875 416,875.1 410,876 C404,877 400.4,877.9 395.5,879.7 C390.7,881.5 386.6,885 381.1,886.9 C375.6,888.8 365.5,890.5 362.3,891.2"/><path d="M483.6,866.7 C480.5,867.1 471.3,868.3 465,869.5 C458.7,870.8 452.8,872.4 446.1,873.9 C439.3,875.3 430.4,876 424.4,878.2 C418.4,880.4 414.8,884.2 410,886.9 C405.2,889.5 401.6,892.7 395.5,894.1 C389.5,895.5 380.1,895.1 373.9,895.5 C367.6,896 360.6,896.7 358,897"/><path d="M483.6,878.2 C480.5,878.7 471.3,879.9 465,881.1 C458.7,882.3 451.6,883.7 446.1,885.4 C440.5,887.1 435.3,889 431.6,891.2 C428,893.4 425.6,897.2 424.4,898.4"/><path d="M483.6,888.3 C480.5,889 469.8,891.5 465,892.7 C460.2,893.9 456.5,895.1 454.7,895.5"/><path d="M450,856.8 C454,857 468.5,856.8 474.1,858.1 C479.7,859.3 483.7,862.3 483.7,864.1 C483.7,865.9 479.7,867.5 474.1,868.9 C468.5,870.3 454,871.9 450,872.5"/><path d="M450,879.7 C453,879.5 463,879.5 468.1,878.5 C473.1,877.5 476.1,876.1 480.1,873.7 C484.1,871.3 490.1,865.7 492.1,864.1"/></g><polygon points="350.8,902.8 457.6,902 459.1,949 350,951.9 350.8,931.6 349.3,917.2" fill="#fff"/><g clip-path="url(#c46)" fill="none" stroke="#000" stroke-width="1.4"><path d="M350.8,906.4 C354.6,907.1 367.1,908.9 373.9,910.7 C380.6,912.5 384,915.9 391.2,917.2 C398.4,918.5 409.3,918.6 417.2,918.6 C425.1,918.6 435.3,917.4 438.9,917.2"/><path d="M415.8,903.5 C419.4,904.1 431.9,905.5 437.4,907.1 C443,908.7 446.6,910.2 449,912.9 C451.4,915.5 452.3,919.8 451.9,923 C451.4,926.1 448.2,929.7 446.1,931.6 C443.9,933.6 440.1,934 438.9,934.5"/><path d="M352.2,917.2 C357,917.9 372.7,920.1 381.1,921.5 C389.5,923 396.3,924.8 402.8,925.9 C409.3,926.9 419.6,927.3 420.1,928 C420.6,928.8 410.9,929.4 405.6,930.2 C400.4,931 394.6,931.9 388.3,933.1 C382.1,934.3 371.5,936.7 368.1,937.4"/><path d="M388.3,918.6 C393.1,918.9 408.8,919.6 417.2,920.1 C425.6,920.6 434.5,920.9 438.9,921.5 C443.2,922.1 443.2,922.5 443.2,923.7 C443.2,924.9 443.2,927.2 438.9,928.8 C434.5,930.3 424.4,931.9 417.2,933.1 C410,934.3 402.8,935 395.5,936 C388.3,936.9 381.1,937.7 373.9,938.9 C366.7,940.1 355.8,942.5 352.2,943.2"/><path d="M352.2,927.3 C354.9,927.7 366.9,928.6 368.1,929.5 C369.3,930.4 362.1,932 359.4,932.8 C356.8,933.6 353.4,934.2 352.2,934.5"/><path d="M352.2,944.6 C358.2,944.2 377.5,942.5 388.3,941.8 C399.2,941 407.6,940.8 417.2,940.3 C426.8,939.8 439.1,939.3 446.1,938.9 C453.1,938.4 456.9,937.7 459.1,937.4"/><path d="M371,949.3 C376.3,948.8 392.7,947.1 402.8,946.4 C412.9,945.6 422.3,945.2 431.6,944.9 C441,944.6 454.5,944.7 459.1,944.6"/></g><path d="M376.8,855.1 L465,853 L500.5,853.2 L459.6,899 L350.8,902.8 L358,892.7 L363.8,884 L369.5,873.9 L373.9,865.2 L376.8,855.1" fill="none" stroke="#000" stroke-width="2.8" stroke-linejoin="round" stroke-linecap="round"/><path d="M350.8,902.8 L349.3,917.2 L350.8,931.6 L350,951.9 L459.1,949" fill="none" stroke="#000" stroke-width="2.8" stroke-linejoin="round" stroke-linecap="round"/><path d="M457.6,902 L459.1,952 L475.3,936.3" fill="none" stroke="#000" stroke-width="2.8" stroke-linejoin="round" stroke-linecap="round"/><path d="M500.5,853.2 L503,879.7" fill="none" stroke="#000" stroke-width="2.6" stroke-linejoin="round" stroke-linecap="round"/><path d="M474,893 L484.9,882.1 L535.4,881.5 L537.8,921.8 L522.2,935 L475.3,935 L474,893 L521,893 L535.4,881.5" fill="none" stroke="#000" stroke-width="2.6" stroke-linejoin="round" stroke-linecap="round"/><path d="M521,893 L522.2,935" fill="none" stroke="#000" stroke-width="2.4" stroke-linejoin="round" stroke-linecap="round"/><path d="M523.4,880.9 L531.8,868.9" stroke="#000" stroke-width="1.2" stroke-dasharray="2,1.5"/><path d="M534.2,852 L540.3,843.6 L537.2,853.2 L534.2,862.9" fill="none" stroke="#000" stroke-width="2.2" stroke-linejoin="round" stroke-linecap="round"/><path d="M545.1,852 L550,844.8 L547.5,854.4 L543.9,865.3" fill="none" stroke="#000" stroke-width="2.2" stroke-linejoin="round" stroke-linecap="round"/><polygon points="716.5,869.7 739,869.7 739,885.5 774.7,886.9 774.7,922.6 716.5,922.6" fill="#fff"/><g clip-path="url(#c47)" fill="none" stroke="#000" stroke-width="1.4"><path d="M717.8,881.6 C719.8,882.2 725.5,884 729.7,885.5 C733.9,887.1 738.5,888.6 742.9,890.8 C747.4,893 752.7,895.9 756.2,898.8 C759.7,901.6 765.2,905.6 764.1,908 C763,910.5 754.2,912 749.6,913.3 C744.9,914.7 741.6,915.3 736.3,916 C731,916.6 720.9,917.1 717.8,917.3"/><path d="M717.8,893.5 C719.8,893.7 726.4,893.9 729.7,894.8 C733,895.7 737.7,897.4 737.7,898.8 C737.7,900.1 733,901.9 729.7,902.7 C726.4,903.6 719.8,903.8 717.8,904.1"/><path d="M719.1,914.7 C722,914.4 730.2,913.6 736.3,913.3 C742.5,913.1 749.8,913.6 756.2,913.3 C762.6,913.1 771.6,912.2 774.7,912"/><path d="M740.3,888.2 C742.9,888.6 750.4,889.9 756.2,890.8 C761.9,891.7 771.6,893 774.7,893.5"/></g><polygon points="716.5,869.7 735,846.5 736.3,856.4 750.9,856.4 739,869.7" fill="#fff"/><g clip-path="url(#c48)" fill="none" stroke="#000" stroke-width="1.3"><path d="M690,865.7 C692.2,864.8 698.8,861.7 703.2,860.4 C707.6,859.1 711.6,857.7 716.5,857.7 C721.3,857.7 729.7,859.9 732.4,860.4"/><path d="M709.9,864.4 C712.1,863.9 719.1,861.7 723.1,861.7 C727.1,861.7 731.9,863.9 733.7,864.4"/></g><polygon points="739,885.5 752.2,872.3 788,872.3 774.7,886.9" fill="#fff"/><g clip-path="url(#c49)" fill="none" stroke="#000" stroke-width="1.6"><path d="M753.5,877.6 C755.3,877.2 761.5,874.7 764.1,874.9 C766.8,875.2 768.5,878.3 769.4,878.9"/><path d="M764.1,880.2 C765.9,879.6 771.6,877.2 774.7,876.3 C777.8,875.4 781.3,875.2 782.7,874.9"/></g><polygon points="774.7,886.9 788,872.3 788.6,909.4 774.7,922.6" fill="#fff"/><g clip-path="url(#c50)" fill="none" stroke="#000" stroke-width="1.4"><path d="M777.4,881.6 C778.2,883.8 780.9,891 782.7,894.8 C784.4,898.5 787.1,902.5 787.9,904.1"/><path d="M785.3,878.9 C784.4,880.9 781.3,887.1 780,890.8 C778.7,894.6 777.1,897.4 777.4,901.4 C777.6,905.4 780.7,912.4 781.3,914.7"/></g><polygon points="739,869.7 750.9,856.4 752.2,872.3 739,885.5" fill="#fff"/><g clip-path="url(#c51)" fill="none" stroke="#000" stroke-width="1.4"><path d="M740.3,877.6 L749.6,867"/><path d="M742.9,872.3 L748.2,861.7"/></g><polygon points="693.3,891.4 716.5,868.3 716.5,922.6 694.8,943.4" fill="#fff"/><g clip-path="url(#c52)" fill="none" stroke="#000" stroke-width="1.3"><path d="M696.2,895.8 C697.2,898.2 700,905.4 702,910.2 C703.9,915 706.1,921 707.7,924.6 C709.4,928.3 711.4,930.7 712.1,931.9"/><path d="M699.1,887.1 C700,889 702.5,894.3 704.9,898.6 C707.3,903 712.1,910.7 713.5,913.1"/><path d="M694.8,913.1 C696,911.2 699.3,905.4 702,901.5 C704.6,897.7 709.2,891.9 710.6,890"/><path d="M696.2,933.3 C697.6,930.9 702,923.2 704.9,918.9 C707.7,914.5 712.1,909.2 713.5,907.3"/></g><polygon points="621.1,849.6 735,846.5 716.5,868.3 693.3,891.4 603.1,892.9 606.7,879.9 612.4,869.8 619.7,855.3" fill="#fff"/><g clip-path="url(#c53)" fill="none" stroke="#000" stroke-width="1.4"><path d="M622.5,853.9 C625.7,854.4 635.3,855.8 641.3,856.8 C647.3,857.7 652.6,858.7 658.6,859.7 C664.7,860.6 673.1,861.8 677.4,862.5 C681.8,863.3 685.8,863.3 684.6,864 C683.4,864.7 675,865.9 670.2,866.9 C665.4,867.8 659.9,868.3 655.8,869.8 C651.7,871.2 649.3,873.9 645.7,875.5 C642,877.2 639.6,878.4 634.1,879.9 C628.6,881.3 616.1,883.5 612.4,884.2"/><path d="M624,864 C625.4,864.2 631,864.7 632.7,865.4 C634.3,866.2 635.5,867.1 634.1,868.3 C632.7,869.5 627.6,871.2 624,872.7 C620.4,874.1 614.4,876.3 612.4,877"/><path d="M677.4,849.6 C681,850 692.3,851.7 699.1,852.4 C705.8,853.2 713.2,853.6 718,853.9 C722.8,854.1 726.3,853.9 728,853.9"/><path d="M735.2,859.7 C732.3,860.1 724,861.3 718,862.5 C712,863.8 704.6,865.2 699.1,866.9 C693.5,868.6 688.7,870.3 684.6,872.7 C680.6,875.1 677.4,878.9 674.5,881.3 C671.6,883.7 668.5,886.1 667.3,887.1"/><path d="M606.7,885.7 C610,885.2 620.4,883.5 626.9,882.8 C633.4,882 639.6,882 645.7,881.3 C651.7,880.6 660.1,878.9 663,878.4"/><path d="M626.9,851 C630.5,851.2 642.5,852.3 648.5,852.4 C654.6,852.6 660.6,851.8 663,851.7"/></g><polygon points="603.1,892.9 693.3,891.4 694.8,943.4 604.5,944.9 602.3,907.3" fill="#fff"/><g clip-path="url(#c54)" fill="none" stroke="#000" stroke-width="1.4"><path d="M605.2,897.2 C608.8,897.4 618.5,898.2 626.9,898.6 C635.3,899.1 647.3,899.6 655.8,900.1 C664.2,900.6 672.4,900.6 677.4,901.5 C682.5,902.5 684.4,903.9 686.1,905.9 C687.8,907.8 687.8,910.9 687.5,913.1 C687.3,915.3 684.6,916.9 684.6,918.9 C684.6,920.8 686.6,922.5 687.5,924.6 C688.5,926.8 689.5,929.5 690.4,931.9 C691.4,934.3 692.8,937.9 693.3,939.1"/><path d="M606.7,907.3 C610,907.8 621.1,909 626.9,910.2 C632.7,911.4 637.7,912.8 641.3,914.5 C644.9,916.2 648.5,918.6 648.5,920.3 C648.5,922 644.9,923.4 641.3,924.6 C637.7,925.8 632.7,926.3 626.9,927.5 C621.1,928.7 610,931.1 606.7,931.9"/><path d="M612.4,905.9 C617.3,906.1 631.7,906.4 641.3,907.3 C650.9,908.3 663.9,909.7 670.2,911.6 C676.5,913.6 678.4,916.2 678.9,918.9 C679.3,921.5 676.9,925.4 673.1,927.5 C669.2,929.7 662.3,930.4 655.8,931.9 C649.3,933.3 641.3,935 634.1,936.2 C626.9,937.4 616.1,938.6 612.4,939.1"/><path d="M619.7,943.4 C623.3,942.7 632.9,940.3 641.3,939.1 C649.7,937.9 662,936.9 670.2,936.2 C678.4,935.5 687,935 690.4,934.8"/></g><path d="M621.1,849.6 L735,846.5 L716.5,868.3 L693.3,891.4 L603.1,892.9 L606.7,879.9 L612.4,869.8 L619.7,855.3 L621.1,849.6" fill="none" stroke="#000" stroke-width="2.8" stroke-linejoin="round" stroke-linecap="round"/><path d="M603.1,892.9 L602.3,907.3 L604.5,944.9 L694.8,943.4 L693.3,891.4" fill="none" stroke="#000" stroke-width="2.8" stroke-linejoin="round" stroke-linecap="round"/><path d="M694.8,943.4 L716.5,922.6" fill="none" stroke="#000" stroke-width="2.8" stroke-linejoin="round" stroke-linecap="round"/><path d="M735,846.5 L736.3,856.4 L750.9,856.4 L752.2,872.3 L788,872.3 L788.6,909.4 L776,921.3 L774.7,922.6 L716.5,922.6 L716.5,869.7 L739,869.7 L739,885.5 L774.7,886.9 L774.7,922.6" fill="none" stroke="#000" stroke-width="2.6" stroke-linejoin="round" stroke-linecap="round"/><path d="M739,869.7 L750.9,856.4" fill="none" stroke="#000" stroke-width="2.2" stroke-linejoin="round" stroke-linecap="round"/><path d="M739,885.5 L752.2,872.3" fill="none" stroke="#000" stroke-width="2.2" stroke-linejoin="round" stroke-linecap="round"/><path d="M774.7,886.9 L788,873" fill="none" stroke="#000" stroke-width="2.4" stroke-linejoin="round" stroke-linecap="round"/><path d="M776,855.1 L769.4,871" fill="none" stroke="#000" stroke-width="1.4" stroke-linejoin="round" stroke-linecap="round"/><path d="M770.1,836.6 L776,828 L772.7,837.9 L769.4,846.5" fill="none" stroke="#000" stroke-width="2.2" stroke-linejoin="round" stroke-linecap="round"/><path d="M778,833.9 L781.3,829.3 L786.6,828 L789.9,831.9 L787.9,837.9 L778.7,848.5 L790.6,848.5" fill="none" stroke="#000" stroke-width="2.2" stroke-linejoin="round" stroke-linecap="round"/><path d="M382.6,225.8 C383.1,225.3 384.5,223.4 385.5,222.9 C386.5,222.4 387.9,222.4 388.8,222.6 C389.7,222.8 390.5,223.3 390.9,224 C391.3,224.7 391.5,225.9 391.3,226.9 C391.1,227.9 390.4,229.1 389.5,230.2 C388.6,231.3 387.3,232.4 385.9,233.4 C384.4,234.4 382.1,235.2 380.8,235.9 C379.5,236.6 378.7,236.9 377.9,237.7 C377.1,238.5 376.1,240.1 375.8,240.6" fill="none" stroke="#000" stroke-width="2.1" stroke-linejoin="round" stroke-linecap="round"/><path d="M375.8,240.6 L382.6,240.8 L388.1,241.7" fill="none" stroke="#000" stroke-width="1.9" stroke-linejoin="round" stroke-linecap="round"/><path d="M267.4,397.9 L255.5,413.8 L267.7,413.4" fill="none" stroke="#000" stroke-width="2.0" stroke-linejoin="round" stroke-linecap="round"/><path d="M267.4,407.3 L263.8,422.4" fill="none" stroke="#000" stroke-width="2.0" stroke-linejoin="round" stroke-linecap="round"/><path d="M277.5,459 L270.6,459 L266.7,466.9" fill="none" stroke="#000" stroke-width="2.0" stroke-linejoin="round" stroke-linecap="round"/><path d="M269.6,463.7 C270.1,463.8 271.6,463.6 272.4,464 C273.2,464.4 274.1,465.3 274.6,466.2 C275.1,467.1 275.4,468.1 275.3,469.4 C275.2,470.7 274.7,472.6 274.2,473.8 C273.7,475 273,476 272.4,476.7 C271.8,477.4 271.4,477.9 270.3,478.1 C269.2,478.3 266.4,478.1 265.6,478.1" fill="none" stroke="#000" stroke-width="2.0" stroke-linejoin="round" stroke-linecap="round"/><path d="M654.5,470.3 L657,468.9 L666.8,468.9 L664.6,472.8 L656.7,488.7" fill="none" stroke="#000" stroke-width="2.0" stroke-linejoin="round" stroke-linecap="round"/><ellipse cx="245.6" cy="840.2" rx="4.6" ry="4.6" transform="rotate(-10 245.6 840.2)" fill="none" stroke="#000" stroke-width="1.8"/><ellipse cx="242.7" cy="850.5" rx="5.6" ry="5.3" transform="rotate(-10 242.7 850.5)" fill="none" stroke="#000" stroke-width="1.8"/><ellipse cx="281.6" cy="852.3" rx="5.4" ry="7.4" transform="rotate(15 281.6 852.3)" fill="none" stroke="#000" stroke-width="1.8"/><path d="M286.9,852.5 C286.7,853.6 286.3,857 285.6,859 C284.9,861 283.7,863.3 282.5,864.5 C281.3,865.7 279.9,866.2 278.5,866.4 C277.1,866.6 274.9,865.7 274.2,865.6" fill="none" stroke="#000" stroke-width="1.8" stroke-linejoin="round" stroke-linecap="round"/><path d="M280.5,907.5 L285.7,900.3 L279,919.5" fill="none" stroke="#000" stroke-width="1.9" stroke-linejoin="round" stroke-linecap="round"/><ellipse cx="295.9" cy="909.9" rx="5.6" ry="9.4" transform="rotate(18 295.9 909.9)" fill="none" stroke="#000" stroke-width="1.8"/><path d="M369.5,733 C368.8,732.5 366.8,730.1 365,729.8 C363.2,729.5 360.8,729.7 359,731 C357.2,732.3 355.3,735.3 354.5,737.5 C353.7,739.7 353.5,742.4 354,744 C354.5,745.6 356.1,746.8 357.5,747 C358.9,747.2 360.8,746.8 362.5,745.5 C364.2,744.2 366.3,741.4 367.5,739 C368.7,736.6 369.4,732.3 369.8,731" fill="none" stroke="#000" stroke-width="2.1" stroke-linejoin="round" stroke-linecap="round"/><path d="M369.8,731 C369.5,732.7 368.4,738.5 368.2,741 C368,743.5 368,744.9 368.5,746 C369,747.1 370.6,747.2 371,747.5" fill="none" stroke="#000" stroke-width="2.1" stroke-linejoin="round" stroke-linecap="round"/><path d="M439.8,972.1 L431,971.6" fill="none" stroke="#000" stroke-width="1.9" stroke-linejoin="round" stroke-linecap="round"/><path d="M431,971.6 C430.9,972.2 430.2,974 430.5,975 C430.8,976 432.2,977.1 432.5,977.5" fill="none" stroke="#000" stroke-width="2.1" stroke-linejoin="round" stroke-linecap="round"/><path d="M432.5,977.5 C433.2,977.8 436.1,978.2 437,979.5 C437.9,980.8 438.1,983 437.8,985 C437.6,987 436.6,989.9 435.5,991.5 C434.4,993.1 432.5,994.4 431,994.6 C429.5,994.9 427.3,994.3 426.5,993 C425.7,991.7 425.7,989.1 426,987 C426.3,984.9 427.4,982.1 428.5,980.5 C429.6,978.9 431.8,978 432.5,977.5" fill="none" stroke="#000" stroke-width="2.1" stroke-linejoin="round" stroke-linecap="round"/></svg></body></html>
